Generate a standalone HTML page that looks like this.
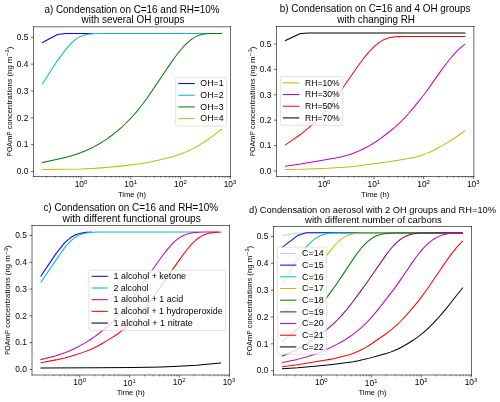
<!DOCTYPE html>
<html><head><meta charset="utf-8"><style>html,body{margin:0;padding:0;background:#fff;overflow:hidden}svg{display:block;will-change:transform}</style></head><body>
<svg width="500" height="402" viewBox="0 0 681.818182 548.181818" version="1.1">
<defs>
<style type="text/css">*{stroke-linejoin: round; stroke-linecap: butt}</style>
</defs>
<g id="figure_1">
<g id="patch_1">
<path d="M 0 548.181818 
L 681.818182 548.181818 
L 681.818182 0 
L 0 0 
z
" style="fill: #ffffff"/>
</g>
<g id="axes_1">
<g id="patch_2">
<path d="M 45.681818 240.681818 
L 314.318182 240.681818 
L 314.318182 36.545455 
L 45.681818 36.545455 
z
" style="fill: #ffffff"/>
</g>
<g id="matplotlib.axis_1">
<g id="xtick_1">
<g id="line2d_1">
<defs>
<path id="mc3e03fb9f3" d="M 0 0 
L 0 3.5 
" style="stroke: #000000; stroke-width: 0.8"/>
</defs>
<g>
<use href="#mc3e03fb9f3" x="110.599546" y="240.681818" style="stroke: #000000; stroke-width: 0.8"/>
</g>
</g>
<g id="text_1">
<g transform="translate(101.799546 255.280256)">
<text>
<tspan x="0" y="-0.976562" style="font-size: 12.000px; font-family: 'Liberation Sans', sans-serif" textLength="6.362" lengthAdjust="spacingAndGlyphs">1</tspan>
<tspan x="6.362305" y="-0.976562" style="font-size: 12.000px; font-family: 'Liberation Sans', sans-serif" textLength="6.362" lengthAdjust="spacingAndGlyphs">0</tspan>
<tspan x="12.820312" y="-4.804688" style="font-size: 8.400px; font-family: 'Liberation Sans', sans-serif" textLength="4.454" lengthAdjust="spacingAndGlyphs">0</tspan>
</text>
</g>
</g>
</g>
<g id="xtick_2">
<g id="line2d_2">
<g>
<use href="#mc3e03fb9f3" x="178.333143" y="240.681818" style="stroke: #000000; stroke-width: 0.8"/>
</g>
</g>
<g id="text_2">
<g transform="translate(169.533143 255.280256)">
<text>
<tspan x="0" y="-0.064063" style="font-size: 12.000px; font-family: 'Liberation Sans', sans-serif" textLength="6.362" lengthAdjust="spacingAndGlyphs">1</tspan>
<tspan x="6.362305" y="-0.064063" style="font-size: 12.000px; font-family: 'Liberation Sans', sans-serif" textLength="6.362" lengthAdjust="spacingAndGlyphs">0</tspan>
<tspan x="12.820312" y="-3.892188" style="font-size: 8.400px; font-family: 'Liberation Sans', sans-serif" textLength="4.454" lengthAdjust="spacingAndGlyphs">1</tspan>
</text>
</g>
</g>
</g>
<g id="xtick_3">
<g id="line2d_3">
<g>
<use href="#mc3e03fb9f3" x="246.066741" y="240.681818" style="stroke: #000000; stroke-width: 0.8"/>
</g>
</g>
<g id="text_3">
<g transform="translate(237.266741 255.280256)">
<text>
<tspan x="0" y="-0.976562" style="font-size: 12.000px; font-family: 'Liberation Sans', sans-serif" textLength="6.362" lengthAdjust="spacingAndGlyphs">1</tspan>
<tspan x="6.362305" y="-0.976562" style="font-size: 12.000px; font-family: 'Liberation Sans', sans-serif" textLength="6.362" lengthAdjust="spacingAndGlyphs">0</tspan>
<tspan x="12.820312" y="-4.804688" style="font-size: 8.400px; font-family: 'Liberation Sans', sans-serif" textLength="4.454" lengthAdjust="spacingAndGlyphs">2</tspan>
</text>
</g>
</g>
</g>
<g id="xtick_4">
<g id="line2d_4">
<g>
<use href="#mc3e03fb9f3" x="313.800338" y="240.681818" style="stroke: #000000; stroke-width: 0.8"/>
</g>
</g>
<g id="text_4">
<g transform="translate(305.000338 255.280256)">
<text>
<tspan x="0" y="-0.976562" style="font-size: 12.000px; font-family: 'Liberation Sans', sans-serif" textLength="6.362" lengthAdjust="spacingAndGlyphs">1</tspan>
<tspan x="6.362305" y="-0.976562" style="font-size: 12.000px; font-family: 'Liberation Sans', sans-serif" textLength="6.362" lengthAdjust="spacingAndGlyphs">0</tspan>
<tspan x="12.820312" y="-4.804688" style="font-size: 8.400px; font-family: 'Liberation Sans', sans-serif" textLength="4.454" lengthAdjust="spacingAndGlyphs">3</tspan>
</text>
</g>
</g>
</g>
<g id="xtick_5">
<g id="line2d_5">
<defs>
<path id="m08e8c4e3fb" d="M 0 0 
L 0 2 
" style="stroke: #000000; stroke-width: 0.6"/>
</defs>
<g>
<use href="#m08e8c4e3fb" x="63.255793" y="240.681818" style="stroke: #000000; stroke-width: 0.6"/>
</g>
</g>
</g>
<g id="xtick_6">
<g id="line2d_6">
<g>
<use href="#m08e8c4e3fb" x="75.183087" y="240.681818" style="stroke: #000000; stroke-width: 0.6"/>
</g>
</g>
</g>
<g id="xtick_7">
<g id="line2d_7">
<g>
<use href="#m08e8c4e3fb" x="83.645637" y="240.681818" style="stroke: #000000; stroke-width: 0.6"/>
</g>
</g>
</g>
<g id="xtick_8">
<g id="line2d_8">
<g>
<use href="#m08e8c4e3fb" x="90.209701" y="240.681818" style="stroke: #000000; stroke-width: 0.6"/>
</g>
</g>
</g>
<g id="xtick_9">
<g id="line2d_9">
<g>
<use href="#m08e8c4e3fb" x="95.572932" y="240.681818" style="stroke: #000000; stroke-width: 0.6"/>
</g>
</g>
</g>
<g id="xtick_10">
<g id="line2d_10">
<g>
<use href="#m08e8c4e3fb" x="100.107479" y="240.681818" style="stroke: #000000; stroke-width: 0.6"/>
</g>
</g>
</g>
<g id="xtick_11">
<g id="line2d_11">
<g>
<use href="#m08e8c4e3fb" x="104.035482" y="240.681818" style="stroke: #000000; stroke-width: 0.6"/>
</g>
</g>
</g>
<g id="xtick_12">
<g id="line2d_12">
<g>
<use href="#m08e8c4e3fb" x="107.500226" y="240.681818" style="stroke: #000000; stroke-width: 0.6"/>
</g>
</g>
</g>
<g id="xtick_13">
<g id="line2d_13">
<g>
<use href="#m08e8c4e3fb" x="130.98939" y="240.681818" style="stroke: #000000; stroke-width: 0.6"/>
</g>
</g>
</g>
<g id="xtick_14">
<g id="line2d_14">
<g>
<use href="#m08e8c4e3fb" x="142.916685" y="240.681818" style="stroke: #000000; stroke-width: 0.6"/>
</g>
</g>
</g>
<g id="xtick_15">
<g id="line2d_15">
<g>
<use href="#m08e8c4e3fb" x="151.379235" y="240.681818" style="stroke: #000000; stroke-width: 0.6"/>
</g>
</g>
</g>
<g id="xtick_16">
<g id="line2d_16">
<g>
<use href="#m08e8c4e3fb" x="157.943299" y="240.681818" style="stroke: #000000; stroke-width: 0.6"/>
</g>
</g>
</g>
<g id="xtick_17">
<g id="line2d_17">
<g>
<use href="#m08e8c4e3fb" x="163.306529" y="240.681818" style="stroke: #000000; stroke-width: 0.6"/>
</g>
</g>
</g>
<g id="xtick_18">
<g id="line2d_18">
<g>
<use href="#m08e8c4e3fb" x="167.841076" y="240.681818" style="stroke: #000000; stroke-width: 0.6"/>
</g>
</g>
</g>
<g id="xtick_19">
<g id="line2d_19">
<g>
<use href="#m08e8c4e3fb" x="171.769079" y="240.681818" style="stroke: #000000; stroke-width: 0.6"/>
</g>
</g>
</g>
<g id="xtick_20">
<g id="line2d_20">
<g>
<use href="#m08e8c4e3fb" x="175.233824" y="240.681818" style="stroke: #000000; stroke-width: 0.6"/>
</g>
</g>
</g>
<g id="xtick_21">
<g id="line2d_21">
<g>
<use href="#m08e8c4e3fb" x="198.722988" y="240.681818" style="stroke: #000000; stroke-width: 0.6"/>
</g>
</g>
</g>
<g id="xtick_22">
<g id="line2d_22">
<g>
<use href="#m08e8c4e3fb" x="210.650282" y="240.681818" style="stroke: #000000; stroke-width: 0.6"/>
</g>
</g>
</g>
<g id="xtick_23">
<g id="line2d_23">
<g>
<use href="#m08e8c4e3fb" x="219.112832" y="240.681818" style="stroke: #000000; stroke-width: 0.6"/>
</g>
</g>
</g>
<g id="xtick_24">
<g id="line2d_24">
<g>
<use href="#m08e8c4e3fb" x="225.676896" y="240.681818" style="stroke: #000000; stroke-width: 0.6"/>
</g>
</g>
</g>
<g id="xtick_25">
<g id="line2d_25">
<g>
<use href="#m08e8c4e3fb" x="231.040127" y="240.681818" style="stroke: #000000; stroke-width: 0.6"/>
</g>
</g>
</g>
<g id="xtick_26">
<g id="line2d_26">
<g>
<use href="#m08e8c4e3fb" x="235.574674" y="240.681818" style="stroke: #000000; stroke-width: 0.6"/>
</g>
</g>
</g>
<g id="xtick_27">
<g id="line2d_27">
<g>
<use href="#m08e8c4e3fb" x="239.502677" y="240.681818" style="stroke: #000000; stroke-width: 0.6"/>
</g>
</g>
</g>
<g id="xtick_28">
<g id="line2d_28">
<g>
<use href="#m08e8c4e3fb" x="242.967421" y="240.681818" style="stroke: #000000; stroke-width: 0.6"/>
</g>
</g>
</g>
<g id="xtick_29">
<g id="line2d_29">
<g>
<use href="#m08e8c4e3fb" x="266.456585" y="240.681818" style="stroke: #000000; stroke-width: 0.6"/>
</g>
</g>
</g>
<g id="xtick_30">
<g id="line2d_30">
<g>
<use href="#m08e8c4e3fb" x="278.38388" y="240.681818" style="stroke: #000000; stroke-width: 0.6"/>
</g>
</g>
</g>
<g id="xtick_31">
<g id="line2d_31">
<g>
<use href="#m08e8c4e3fb" x="286.84643" y="240.681818" style="stroke: #000000; stroke-width: 0.6"/>
</g>
</g>
</g>
<g id="xtick_32">
<g id="line2d_32">
<g>
<use href="#m08e8c4e3fb" x="293.410494" y="240.681818" style="stroke: #000000; stroke-width: 0.6"/>
</g>
</g>
</g>
<g id="xtick_33">
<g id="line2d_33">
<g>
<use href="#m08e8c4e3fb" x="298.773724" y="240.681818" style="stroke: #000000; stroke-width: 0.6"/>
</g>
</g>
</g>
<g id="xtick_34">
<g id="line2d_34">
<g>
<use href="#m08e8c4e3fb" x="303.308271" y="240.681818" style="stroke: #000000; stroke-width: 0.6"/>
</g>
</g>
</g>
<g id="xtick_35">
<g id="line2d_35">
<g>
<use href="#m08e8c4e3fb" x="307.236274" y="240.681818" style="stroke: #000000; stroke-width: 0.6"/>
</g>
</g>
</g>
<g id="xtick_36">
<g id="line2d_36">
<g>
<use href="#m08e8c4e3fb" x="310.701019" y="240.681818" style="stroke: #000000; stroke-width: 0.6"/>
</g>
</g>
</g>
<g id="text_5">
<text style="font-size: 11.040px; font-family: 'Liberation Sans', sans-serif; text-anchor: middle" x="180" y="268.350506" transform="rotate(-0 180 268.350506)" textLength="38.449" lengthAdjust="spacingAndGlyphs">Time (h)</text>
</g>
</g>
<g id="matplotlib.axis_2">
<g id="ytick_1">
<g id="line2d_37">
<defs>
<path id="m2a3950ff30" d="M 0 0 
L -3.5 0 
" style="stroke: #000000; stroke-width: 0.8"/>
</defs>
<g>
<use href="#m2a3950ff30" x="45.681818" y="233.863636" style="stroke: #000000; stroke-width: 0.8"/>
</g>
</g>
<g id="text_6">
<text style="font-size: 12.000px; font-family: 'Liberation Sans', sans-serif; text-anchor: end" x="38.681818" y="237.662855" transform="rotate(-0 38.681818 237.662855)" textLength="15.903" lengthAdjust="spacingAndGlyphs">0.0</text>
</g>
</g>
<g id="ytick_2">
<g id="line2d_38">
<g>
<use href="#m2a3950ff30" x="45.681818" y="197.263636" style="stroke: #000000; stroke-width: 0.8"/>
</g>
</g>
<g id="text_7">
<text style="font-size: 12.000px; font-family: 'Liberation Sans', sans-serif; text-anchor: end" x="38.681818" y="201.062855" transform="rotate(-0 38.681818 201.062855)" textLength="15.903" lengthAdjust="spacingAndGlyphs">0.1</text>
</g>
</g>
<g id="ytick_3">
<g id="line2d_39">
<g>
<use href="#m2a3950ff30" x="45.681818" y="160.663636" style="stroke: #000000; stroke-width: 0.8"/>
</g>
</g>
<g id="text_8">
<text style="font-size: 12.000px; font-family: 'Liberation Sans', sans-serif; text-anchor: end" x="38.681818" y="164.462855" transform="rotate(-0 38.681818 164.462855)" textLength="15.903" lengthAdjust="spacingAndGlyphs">0.2</text>
</g>
</g>
<g id="ytick_4">
<g id="line2d_40">
<g>
<use href="#m2a3950ff30" x="45.681818" y="124.063636" style="stroke: #000000; stroke-width: 0.8"/>
</g>
</g>
<g id="text_9">
<text style="font-size: 12.000px; font-family: 'Liberation Sans', sans-serif; text-anchor: end" x="38.681818" y="127.862855" transform="rotate(-0 38.681818 127.862855)" textLength="15.903" lengthAdjust="spacingAndGlyphs">0.3</text>
</g>
</g>
<g id="ytick_5">
<g id="line2d_41">
<g>
<use href="#m2a3950ff30" x="45.681818" y="87.463636" style="stroke: #000000; stroke-width: 0.8"/>
</g>
</g>
<g id="text_10">
<text style="font-size: 12.000px; font-family: 'Liberation Sans', sans-serif; text-anchor: end" x="38.681818" y="91.262855" transform="rotate(-0 38.681818 91.262855)" textLength="15.903" lengthAdjust="spacingAndGlyphs">0.4</text>
</g>
</g>
<g id="ytick_6">
<g id="line2d_42">
<g>
<use href="#m2a3950ff30" x="45.681818" y="50.863636" style="stroke: #000000; stroke-width: 0.8"/>
</g>
</g>
<g id="text_11">
<text style="font-size: 12.000px; font-family: 'Liberation Sans', sans-serif; text-anchor: end" x="38.681818" y="54.662855" transform="rotate(-0 38.681818 54.662855)" textLength="15.903" lengthAdjust="spacingAndGlyphs">0.5</text>
</g>
</g>
<g id="text_12">
<g transform="translate(16.846693 212.903636) rotate(-90)">
<text>
<tspan x="0" y="-0.873438" style="font-size: 11.040px; font-family: 'Liberation Sans', sans-serif" textLength="5.548" lengthAdjust="spacingAndGlyphs">P</tspan>
<tspan x="5.578003" y="-0.873438" style="font-size: 11.040px; font-family: 'Liberation Sans', sans-serif" textLength="7.241" lengthAdjust="spacingAndGlyphs">O</tspan>
<tspan x="12.858765" y="-0.873438" style="font-size: 11.040px; font-family: 'Liberation Sans', sans-serif" textLength="6.294" lengthAdjust="spacingAndGlyphs">A</tspan>
<tspan x="19.186523" y="-0.873438" style="font-size: 11.040px; font-family: 'Liberation Sans', sans-serif" textLength="8.962" lengthAdjust="spacingAndGlyphs">m</tspan>
<tspan x="28.197144" y="-0.873438" style="font-size: 11.040px; font-family: 'Liberation Sans', sans-serif" textLength="5.548" lengthAdjust="spacingAndGlyphs">P</tspan>
<tspan x="33.775146" y="-0.873438" style="font-size: 11.040px; font-family: 'Liberation Sans', sans-serif"> </tspan>
<tspan x="36.715454" y="-0.873438" style="font-size: 11.040px; font-family: 'Liberation Sans', sans-serif" textLength="5.058" lengthAdjust="spacingAndGlyphs">c</tspan>
<tspan x="41.801147" y="-0.873438" style="font-size: 11.040px; font-family: 'Liberation Sans', sans-serif" textLength="5.629" lengthAdjust="spacingAndGlyphs">o</tspan>
<tspan x="47.460449" y="-0.873438" style="font-size: 11.040px; font-family: 'Liberation Sans', sans-serif" textLength="5.831" lengthAdjust="spacingAndGlyphs">n</tspan>
<tspan x="53.322998" y="-0.873438" style="font-size: 11.040px; font-family: 'Liberation Sans', sans-serif" textLength="5.058" lengthAdjust="spacingAndGlyphs">c</tspan>
<tspan x="58.408691" y="-0.873438" style="font-size: 11.040px; font-family: 'Liberation Sans', sans-serif" textLength="5.660" lengthAdjust="spacingAndGlyphs">e</tspan>
<tspan x="64.099609" y="-0.873438" style="font-size: 11.040px; font-family: 'Liberation Sans', sans-serif" textLength="5.831" lengthAdjust="spacingAndGlyphs">n</tspan>
<tspan x="69.962158" y="-0.873438" style="font-size: 11.040px; font-family: 'Liberation Sans', sans-serif" textLength="3.607" lengthAdjust="spacingAndGlyphs">t</tspan>
<tspan x="73.588989" y="-0.873438" style="font-size: 11.040px; font-family: 'Liberation Sans', sans-serif" textLength="3.782" lengthAdjust="spacingAndGlyphs">r</tspan>
<tspan x="77.391968" y="-0.873438" style="font-size: 11.040px; font-family: 'Liberation Sans', sans-serif" textLength="5.638" lengthAdjust="spacingAndGlyphs">a</tspan>
<tspan x="83.060303" y="-0.873438" style="font-size: 11.040px; font-family: 'Liberation Sans', sans-serif" textLength="3.607" lengthAdjust="spacingAndGlyphs">t</tspan>
<tspan x="86.687134" y="-0.873438" style="font-size: 11.040px; font-family: 'Liberation Sans', sans-serif" textLength="2.556" lengthAdjust="spacingAndGlyphs">i</tspan>
<tspan x="89.25708" y="-0.873438" style="font-size: 11.040px; font-family: 'Liberation Sans', sans-serif" textLength="5.629" lengthAdjust="spacingAndGlyphs">o</tspan>
<tspan x="94.916382" y="-0.873438" style="font-size: 11.040px; font-family: 'Liberation Sans', sans-serif" textLength="5.831" lengthAdjust="spacingAndGlyphs">n</tspan>
<tspan x="100.778931" y="-0.873438" style="font-size: 11.040px; font-family: 'Liberation Sans', sans-serif" textLength="4.793" lengthAdjust="spacingAndGlyphs">s</tspan>
<tspan x="105.598145" y="-0.873438" style="font-size: 11.040px; font-family: 'Liberation Sans', sans-serif"> </tspan>
<tspan x="108.538452" y="-0.873438" style="font-size: 11.040px; font-family: 'Liberation Sans', sans-serif" textLength="3.589" lengthAdjust="spacingAndGlyphs">(</tspan>
<tspan x="112.147217" y="-0.873438" style="font-size: 11.040px; font-family: 'Liberation Sans', sans-serif" textLength="5.831" lengthAdjust="spacingAndGlyphs">n</tspan>
<tspan x="118.009766" y="-0.873438" style="font-size: 11.040px; font-family: 'Liberation Sans', sans-serif" textLength="5.840" lengthAdjust="spacingAndGlyphs">g</tspan>
<tspan x="123.881348" y="-0.873438" style="font-size: 11.040px; font-family: 'Liberation Sans', sans-serif"> </tspan>
<tspan x="126.821655" y="-0.873438" style="font-size: 11.040px; font-family: 'Liberation Sans', sans-serif" textLength="8.962" lengthAdjust="spacingAndGlyphs">m</tspan>
<tspan x="145.709436" y="-0.873438" style="font-size: 11.040px; font-family: 'Liberation Sans', sans-serif" textLength="3.589" lengthAdjust="spacingAndGlyphs">)</tspan>
<tspan x="135.918408" y="-4.31875" style="font-size: 7.728px; font-family: 'Liberation Sans', sans-serif" textLength="5.396" lengthAdjust="spacingAndGlyphs">−</tspan>
<tspan x="141.34375" y="-4.31875" style="font-size: 7.728px; font-family: 'Liberation Sans', sans-serif" textLength="4.097" lengthAdjust="spacingAndGlyphs">3</tspan>
</text>
</g>
</g>
</g>
<g id="line2d_43">
<path d="M 57.892562 57.959559 
L 78.282407 47.042829 
L 90.209701 45.708064 
L 98.672251 45.681852 
L 105.236315 45.681815 
L 110.599546 45.681815 
L 115.134093 45.681815 
L 119.062096 45.681815 
L 122.52684 45.681815 
L 125.62616 45.681815 
" clip-path="url(#pf4587c5738)" style="fill: none; stroke: #0000ff; stroke-width: 1.4; stroke-linecap: square"/>
</g>
<g id="line2d_44">
<path d="M 57.892562 114.273567 
L 78.282407 82.620226 
L 90.209701 66.52876 
L 98.672251 57.512881 
L 105.236315 52.388295 
L 110.599546 49.47046 
L 115.134093 47.816353 
L 119.062096 46.883717 
L 122.52684 46.358742 
L 128.429835 45.895417 
L 135.523937 45.718349 
L 153.733797 45.680544 
L 283.1556 45.680455 
L 283.1556 45.680455 
" clip-path="url(#pf4587c5738)" style="fill: none; stroke: #00bfbf; stroke-width: 1.4; stroke-linecap: square"/>
</g>
<g id="line2d_45">
<path d="M 57.892562 221.700254 
L 78.282407 217.25277 
L 90.209701 214.420438 
L 98.672251 212.100036 
L 105.236315 209.99844 
L 110.599546 208.051661 
L 115.134093 206.234183 
L 122.52684 202.908587 
L 128.429835 199.914854 
L 135.523937 195.949611 
L 141.235294 192.455923 
L 146.016004 189.293649 
L 151.379235 185.4669 
L 155.913782 181.980924 
L 160.746974 177.984221 
L 165.661092 173.615575 
L 171.149765 168.407568 
L 176.824283 162.695577 
L 182.014983 157.152024 
L 186.425672 152.11826 
L 190.906976 146.639549 
L 195.350026 140.85172 
L 200.390757 133.906554 
L 206.628745 124.896659 
L 219.599064 105.642974 
L 232.630586 86.433335 
L 238.378349 78.357475 
L 242.912896 72.356475 
L 246.888614 67.455969 
L 250.474947 63.37873 
L 253.822223 59.904944 
L 256.929074 56.997554 
L 259.831173 54.582347 
L 262.556584 52.597042 
L 265.179047 50.956124 
L 267.7514 49.605118 
L 270.332451 48.499103 
L 272.981401 47.605731 
L 275.788647 46.896411 
L 278.837944 46.359609 
L 282.266907 45.986772 
L 286.376945 45.772379 
L 292.585172 45.701061 
L 302.107438 45.685924 
L 302.107438 45.685924 
" clip-path="url(#pf4587c5738)" style="fill: none; stroke: #008000; stroke-width: 1.4; stroke-linecap: square"/>
</g>
<g id="line2d_46">
<path d="M 57.892562 231.237851 
L 110.599546 230.310832 
L 125.62616 229.649623 
L 137.553454 228.919145 
L 152.580068 227.742079 
L 164.896988 226.523822 
L 176.824283 225.150463 
L 190.906976 223.25976 
L 199.449354 221.930871 
L 206.251608 220.639284 
L 214.18757 218.884013 
L 227.112124 215.76601 
L 234.937472 213.675708 
L 241.170446 211.784054 
L 246.745236 209.863631 
L 251.996466 207.820798 
L 257.198951 205.555836 
L 262.444415 203.028058 
L 267.657418 200.269115 
L 272.784372 197.304012 
L 277.972456 194.044062 
L 283.555828 190.266549 
L 290.01553 185.618788 
L 297.547345 179.917946 
L 302.107438 176.367388 
L 302.107438 176.367388 
" clip-path="url(#pf4587c5738)" style="fill: none; stroke: #bfbf00; stroke-width: 1.4; stroke-linecap: square"/>
</g>
<g id="patch_3">
<path d="M 45.681818 240.681818 
L 45.681818 36.545455 
" style="fill: none; stroke: #000000; stroke-width: 0.8; stroke-linejoin: miter; stroke-linecap: square"/>
</g>
<g id="patch_4">
<path d="M 314.318182 240.681818 
L 314.318182 36.545455 
" style="fill: none; stroke: #000000; stroke-width: 0.8; stroke-linejoin: miter; stroke-linecap: square"/>
</g>
<g id="patch_5">
<path d="M 45.681818 240.681818 
L 314.318182 240.681818 
" style="fill: none; stroke: #000000; stroke-width: 0.8; stroke-linejoin: miter; stroke-linecap: square"/>
</g>
<g id="patch_6">
<path d="M 45.681818 36.545455 
L 314.318182 36.545455 
" style="fill: none; stroke: #000000; stroke-width: 0.8; stroke-linejoin: miter; stroke-linecap: square"/>
</g>
<g id="text_13">
<text style="font-size: 14.400px; font-family: 'Liberation Sans', sans-serif" transform="translate(60.525938 17.10808)" textLength="238.947" lengthAdjust="spacingAndGlyphs">a) Condensation on C=16 and RH=10%</text>
<text style="font-size: 14.400px; font-family: 'Liberation Sans', sans-serif" transform="translate(111.2593 31.6364)" textLength="140.216" lengthAdjust="spacingAndGlyphs">with several OH groups</text>
</g>
<g id="legend_1">
<g id="patch_7">
<path d="M 241.727088 171.800199 
L 306.968182 171.800199 
Q 309.068182 171.800199 309.068182 169.700199 
L 309.068182 107.527074 
Q 309.068182 105.427074 306.968182 105.427074 
L 241.727088 105.427074 
Q 239.627088 105.427074 239.627088 107.527074 
L 239.627088 169.700199 
Q 239.627088 171.800199 241.727088 171.800199 
z
" style="fill: #ffffff; opacity: 0.8; stroke: #cccccc; stroke-linejoin: miter"/>
</g>
<g id="line2d_47">
<path d="M 243.827088 113.930433 
L 254.327088 113.930433 
L 264.827088 113.930433 
" style="fill: none; stroke: #0000ff; stroke-width: 1.4; stroke-linecap: square"/>
</g>
<g id="text_14">
<text style="font-size: 12.600px; font-family: 'Liberation Sans', sans-serif; text-anchor: start" x="273.227088" y="117.605433" transform="rotate(-0 273.227088 117.605433)" textLength="31.638" lengthAdjust="spacingAndGlyphs">OH=1</text>
</g>
<g id="line2d_48">
<path d="M 243.827088 129.867464 
L 254.327088 129.867464 
L 264.827088 129.867464 
" style="fill: none; stroke: #00bfbf; stroke-width: 1.4; stroke-linecap: square"/>
</g>
<g id="text_15">
<text style="font-size: 12.600px; font-family: 'Liberation Sans', sans-serif; text-anchor: start" x="273.227088" y="133.542464" transform="rotate(-0 273.227088 133.542464)" textLength="31.638" lengthAdjust="spacingAndGlyphs">OH=2</text>
</g>
<g id="line2d_49">
<path d="M 243.827088 145.804496 
L 254.327088 145.804496 
L 264.827088 145.804496 
" style="fill: none; stroke: #008000; stroke-width: 1.4; stroke-linecap: square"/>
</g>
<g id="text_16">
<text style="font-size: 12.600px; font-family: 'Liberation Sans', sans-serif; text-anchor: start" x="273.227088" y="149.479496" transform="rotate(-0 273.227088 149.479496)" textLength="31.638" lengthAdjust="spacingAndGlyphs">OH=3</text>
</g>
<g id="line2d_50">
<path d="M 243.827088 161.741527 
L 254.327088 161.741527 
L 264.827088 161.741527 
" style="fill: none; stroke: #bfbf00; stroke-width: 1.4; stroke-linecap: square"/>
</g>
<g id="text_17">
<text style="font-size: 12.600px; font-family: 'Liberation Sans', sans-serif; text-anchor: start" x="273.227088" y="165.416527" transform="rotate(-0 273.227088 165.416527)" textLength="31.638" lengthAdjust="spacingAndGlyphs">OH=4</text>
</g>
</g>
</g>
<g id="axes_2">
<g id="patch_8">
<path d="M 377.045455 240.681818 
L 646.090909 240.681818 
L 646.090909 36.136364 
L 377.045455 36.136364 
z
" style="fill: #ffffff"/>
</g>
<g id="matplotlib.axis_3">
<g id="xtick_37">
<g id="line2d_51">
<g>
<use href="#mc3e03fb9f3" x="442.062041" y="240.681818" style="stroke: #000000; stroke-width: 0.8"/>
</g>
</g>
<g id="text_18">
<g transform="translate(433.262041 255.280256)">
<text>
<tspan x="0" y="-0.976562" style="font-size: 12.000px; font-family: 'Liberation Sans', sans-serif" textLength="6.362" lengthAdjust="spacingAndGlyphs">1</tspan>
<tspan x="6.362305" y="-0.976562" style="font-size: 12.000px; font-family: 'Liberation Sans', sans-serif" textLength="6.362" lengthAdjust="spacingAndGlyphs">0</tspan>
<tspan x="12.820312" y="-4.804688" style="font-size: 8.400px; font-family: 'Liberation Sans', sans-serif" textLength="4.454" lengthAdjust="spacingAndGlyphs">0</tspan>
</text>
</g>
</g>
</g>
<g id="xtick_38">
<g id="line2d_52">
<g>
<use href="#mc3e03fb9f3" x="509.898787" y="240.681818" style="stroke: #000000; stroke-width: 0.8"/>
</g>
</g>
<g id="text_19">
<g transform="translate(501.098787 255.280256)">
<text>
<tspan x="0" y="-0.064063" style="font-size: 12.000px; font-family: 'Liberation Sans', sans-serif" textLength="6.362" lengthAdjust="spacingAndGlyphs">1</tspan>
<tspan x="6.362305" y="-0.064063" style="font-size: 12.000px; font-family: 'Liberation Sans', sans-serif" textLength="6.362" lengthAdjust="spacingAndGlyphs">0</tspan>
<tspan x="12.820312" y="-3.892188" style="font-size: 8.400px; font-family: 'Liberation Sans', sans-serif" textLength="4.454" lengthAdjust="spacingAndGlyphs">1</tspan>
</text>
</g>
</g>
</g>
<g id="xtick_39">
<g id="line2d_53">
<g>
<use href="#mc3e03fb9f3" x="577.735532" y="240.681818" style="stroke: #000000; stroke-width: 0.8"/>
</g>
</g>
<g id="text_20">
<g transform="translate(568.935532 255.280256)">
<text>
<tspan x="0" y="-0.976562" style="font-size: 12.000px; font-family: 'Liberation Sans', sans-serif" textLength="6.362" lengthAdjust="spacingAndGlyphs">1</tspan>
<tspan x="6.362305" y="-0.976562" style="font-size: 12.000px; font-family: 'Liberation Sans', sans-serif" textLength="6.362" lengthAdjust="spacingAndGlyphs">0</tspan>
<tspan x="12.820312" y="-4.804688" style="font-size: 8.400px; font-family: 'Liberation Sans', sans-serif" textLength="4.454" lengthAdjust="spacingAndGlyphs">2</tspan>
</text>
</g>
</g>
</g>
<g id="xtick_40">
<g id="line2d_54">
<g>
<use href="#mc3e03fb9f3" x="645.572277" y="240.681818" style="stroke: #000000; stroke-width: 0.8"/>
</g>
</g>
<g id="text_21">
<g transform="translate(636.772277 255.280256)">
<text>
<tspan x="0" y="-0.976562" style="font-size: 12.000px; font-family: 'Liberation Sans', sans-serif" textLength="6.362" lengthAdjust="spacingAndGlyphs">1</tspan>
<tspan x="6.362305" y="-0.976562" style="font-size: 12.000px; font-family: 'Liberation Sans', sans-serif" textLength="6.362" lengthAdjust="spacingAndGlyphs">0</tspan>
<tspan x="12.820312" y="-4.804688" style="font-size: 8.400px; font-family: 'Liberation Sans', sans-serif" textLength="4.454" lengthAdjust="spacingAndGlyphs">3</tspan>
</text>
</g>
</g>
</g>
<g id="xtick_41">
<g id="line2d_55">
<g>
<use href="#m08e8c4e3fb" x="394.646191" y="240.681818" style="stroke: #000000; stroke-width: 0.6"/>
</g>
</g>
</g>
<g id="xtick_42">
<g id="line2d_56">
<g>
<use href="#m08e8c4e3fb" x="406.591649" y="240.681818" style="stroke: #000000; stroke-width: 0.6"/>
</g>
</g>
</g>
<g id="xtick_43">
<g id="line2d_57">
<g>
<use href="#m08e8c4e3fb" x="415.067086" y="240.681818" style="stroke: #000000; stroke-width: 0.6"/>
</g>
</g>
</g>
<g id="xtick_44">
<g id="line2d_58">
<g>
<use href="#m08e8c4e3fb" x="421.641146" y="240.681818" style="stroke: #000000; stroke-width: 0.6"/>
</g>
</g>
</g>
<g id="xtick_45">
<g id="line2d_59">
<g>
<use href="#m08e8c4e3fb" x="427.012544" y="240.681818" style="stroke: #000000; stroke-width: 0.6"/>
</g>
</g>
</g>
<g id="xtick_46">
<g id="line2d_60">
<g>
<use href="#m08e8c4e3fb" x="431.553997" y="240.681818" style="stroke: #000000; stroke-width: 0.6"/>
</g>
</g>
</g>
<g id="xtick_47">
<g id="line2d_61">
<g>
<use href="#m08e8c4e3fb" x="435.487982" y="240.681818" style="stroke: #000000; stroke-width: 0.6"/>
</g>
</g>
</g>
<g id="xtick_48">
<g id="line2d_62">
<g>
<use href="#m08e8c4e3fb" x="438.958002" y="240.681818" style="stroke: #000000; stroke-width: 0.6"/>
</g>
</g>
</g>
<g id="xtick_49">
<g id="line2d_63">
<g>
<use href="#m08e8c4e3fb" x="462.482937" y="240.681818" style="stroke: #000000; stroke-width: 0.6"/>
</g>
</g>
</g>
<g id="xtick_50">
<g id="line2d_64">
<g>
<use href="#m08e8c4e3fb" x="474.428394" y="240.681818" style="stroke: #000000; stroke-width: 0.6"/>
</g>
</g>
</g>
<g id="xtick_51">
<g id="line2d_65">
<g>
<use href="#m08e8c4e3fb" x="482.903832" y="240.681818" style="stroke: #000000; stroke-width: 0.6"/>
</g>
</g>
</g>
<g id="xtick_52">
<g id="line2d_66">
<g>
<use href="#m08e8c4e3fb" x="489.477891" y="240.681818" style="stroke: #000000; stroke-width: 0.6"/>
</g>
</g>
</g>
<g id="xtick_53">
<g id="line2d_67">
<g>
<use href="#m08e8c4e3fb" x="494.849289" y="240.681818" style="stroke: #000000; stroke-width: 0.6"/>
</g>
</g>
</g>
<g id="xtick_54">
<g id="line2d_68">
<g>
<use href="#m08e8c4e3fb" x="499.390742" y="240.681818" style="stroke: #000000; stroke-width: 0.6"/>
</g>
</g>
</g>
<g id="xtick_55">
<g id="line2d_69">
<g>
<use href="#m08e8c4e3fb" x="503.324727" y="240.681818" style="stroke: #000000; stroke-width: 0.6"/>
</g>
</g>
</g>
<g id="xtick_56">
<g id="line2d_70">
<g>
<use href="#m08e8c4e3fb" x="506.794747" y="240.681818" style="stroke: #000000; stroke-width: 0.6"/>
</g>
</g>
</g>
<g id="xtick_57">
<g id="line2d_71">
<g>
<use href="#m08e8c4e3fb" x="530.319682" y="240.681818" style="stroke: #000000; stroke-width: 0.6"/>
</g>
</g>
</g>
<g id="xtick_58">
<g id="line2d_72">
<g>
<use href="#m08e8c4e3fb" x="542.26514" y="240.681818" style="stroke: #000000; stroke-width: 0.6"/>
</g>
</g>
</g>
<g id="xtick_59">
<g id="line2d_73">
<g>
<use href="#m08e8c4e3fb" x="550.740577" y="240.681818" style="stroke: #000000; stroke-width: 0.6"/>
</g>
</g>
</g>
<g id="xtick_60">
<g id="line2d_74">
<g>
<use href="#m08e8c4e3fb" x="557.314637" y="240.681818" style="stroke: #000000; stroke-width: 0.6"/>
</g>
</g>
</g>
<g id="xtick_61">
<g id="line2d_75">
<g>
<use href="#m08e8c4e3fb" x="562.686035" y="240.681818" style="stroke: #000000; stroke-width: 0.6"/>
</g>
</g>
</g>
<g id="xtick_62">
<g id="line2d_76">
<g>
<use href="#m08e8c4e3fb" x="567.227487" y="240.681818" style="stroke: #000000; stroke-width: 0.6"/>
</g>
</g>
</g>
<g id="xtick_63">
<g id="line2d_77">
<g>
<use href="#m08e8c4e3fb" x="571.161472" y="240.681818" style="stroke: #000000; stroke-width: 0.6"/>
</g>
</g>
</g>
<g id="xtick_64">
<g id="line2d_78">
<g>
<use href="#m08e8c4e3fb" x="574.631493" y="240.681818" style="stroke: #000000; stroke-width: 0.6"/>
</g>
</g>
</g>
<g id="xtick_65">
<g id="line2d_79">
<g>
<use href="#m08e8c4e3fb" x="598.156427" y="240.681818" style="stroke: #000000; stroke-width: 0.6"/>
</g>
</g>
</g>
<g id="xtick_66">
<g id="line2d_80">
<g>
<use href="#m08e8c4e3fb" x="610.101885" y="240.681818" style="stroke: #000000; stroke-width: 0.6"/>
</g>
</g>
</g>
<g id="xtick_67">
<g id="line2d_81">
<g>
<use href="#m08e8c4e3fb" x="618.577322" y="240.681818" style="stroke: #000000; stroke-width: 0.6"/>
</g>
</g>
</g>
<g id="xtick_68">
<g id="line2d_82">
<g>
<use href="#m08e8c4e3fb" x="625.151382" y="240.681818" style="stroke: #000000; stroke-width: 0.6"/>
</g>
</g>
</g>
<g id="xtick_69">
<g id="line2d_83">
<g>
<use href="#m08e8c4e3fb" x="630.52278" y="240.681818" style="stroke: #000000; stroke-width: 0.6"/>
</g>
</g>
</g>
<g id="xtick_70">
<g id="line2d_84">
<g>
<use href="#m08e8c4e3fb" x="635.064232" y="240.681818" style="stroke: #000000; stroke-width: 0.6"/>
</g>
</g>
</g>
<g id="xtick_71">
<g id="line2d_85">
<g>
<use href="#m08e8c4e3fb" x="638.998217" y="240.681818" style="stroke: #000000; stroke-width: 0.6"/>
</g>
</g>
</g>
<g id="xtick_72">
<g id="line2d_86">
<g>
<use href="#m08e8c4e3fb" x="642.468238" y="240.681818" style="stroke: #000000; stroke-width: 0.6"/>
</g>
</g>
</g>
<g id="text_22">
<text style="font-size: 11.040px; font-family: 'Liberation Sans', sans-serif; text-anchor: middle" x="511.568182" y="268.350506" transform="rotate(-0 511.568182 268.350506)" textLength="38.449" lengthAdjust="spacingAndGlyphs">Time (h)</text>
</g>
</g>
<g id="matplotlib.axis_4">
<g id="ytick_7">
<g id="line2d_87">
<g>
<use href="#m2a3950ff30" x="377.045455" y="233.045455" style="stroke: #000000; stroke-width: 0.8"/>
</g>
</g>
<g id="text_23">
<text style="font-size: 12.000px; font-family: 'Liberation Sans', sans-serif; text-anchor: end" x="370.045455" y="236.844673" transform="rotate(-0 370.045455 236.844673)" textLength="15.903" lengthAdjust="spacingAndGlyphs">0.0</text>
</g>
</g>
<g id="ytick_8">
<g id="line2d_88">
<g>
<use href="#m2a3950ff30" x="377.045455" y="198.436364" style="stroke: #000000; stroke-width: 0.8"/>
</g>
</g>
<g id="text_24">
<text style="font-size: 12.000px; font-family: 'Liberation Sans', sans-serif; text-anchor: end" x="370.045455" y="202.235582" transform="rotate(-0 370.045455 202.235582)" textLength="15.903" lengthAdjust="spacingAndGlyphs">0.1</text>
</g>
</g>
<g id="ytick_9">
<g id="line2d_89">
<g>
<use href="#m2a3950ff30" x="377.045455" y="163.827273" style="stroke: #000000; stroke-width: 0.8"/>
</g>
</g>
<g id="text_25">
<text style="font-size: 12.000px; font-family: 'Liberation Sans', sans-serif; text-anchor: end" x="370.045455" y="167.626491" transform="rotate(-0 370.045455 167.626491)" textLength="15.903" lengthAdjust="spacingAndGlyphs">0.2</text>
</g>
</g>
<g id="ytick_10">
<g id="line2d_90">
<g>
<use href="#m2a3950ff30" x="377.045455" y="129.218182" style="stroke: #000000; stroke-width: 0.8"/>
</g>
</g>
<g id="text_26">
<text style="font-size: 12.000px; font-family: 'Liberation Sans', sans-serif; text-anchor: end" x="370.045455" y="133.017401" transform="rotate(-0 370.045455 133.017401)" textLength="15.903" lengthAdjust="spacingAndGlyphs">0.3</text>
</g>
</g>
<g id="ytick_11">
<g id="line2d_91">
<g>
<use href="#m2a3950ff30" x="377.045455" y="94.609091" style="stroke: #000000; stroke-width: 0.8"/>
</g>
</g>
<g id="text_27">
<text style="font-size: 12.000px; font-family: 'Liberation Sans', sans-serif; text-anchor: end" x="370.045455" y="98.40831" transform="rotate(-0 370.045455 98.40831)" textLength="15.903" lengthAdjust="spacingAndGlyphs">0.4</text>
</g>
</g>
<g id="ytick_12">
<g id="line2d_92">
<g>
<use href="#m2a3950ff30" x="377.045455" y="60" style="stroke: #000000; stroke-width: 0.8"/>
</g>
</g>
<g id="text_28">
<text style="font-size: 12.000px; font-family: 'Liberation Sans', sans-serif; text-anchor: end" x="370.045455" y="63.799219" transform="rotate(-0 370.045455 63.799219)" textLength="15.903" lengthAdjust="spacingAndGlyphs">0.5</text>
</g>
</g>
<g id="text_29">
<g transform="translate(348.21033 212.699091) rotate(-90)">
<text>
<tspan x="0" y="-0.873438" style="font-size: 11.040px; font-family: 'Liberation Sans', sans-serif" textLength="5.548" lengthAdjust="spacingAndGlyphs">P</tspan>
<tspan x="5.578003" y="-0.873438" style="font-size: 11.040px; font-family: 'Liberation Sans', sans-serif" textLength="7.241" lengthAdjust="spacingAndGlyphs">O</tspan>
<tspan x="12.858765" y="-0.873438" style="font-size: 11.040px; font-family: 'Liberation Sans', sans-serif" textLength="6.294" lengthAdjust="spacingAndGlyphs">A</tspan>
<tspan x="19.186523" y="-0.873438" style="font-size: 11.040px; font-family: 'Liberation Sans', sans-serif" textLength="8.962" lengthAdjust="spacingAndGlyphs">m</tspan>
<tspan x="28.197144" y="-0.873438" style="font-size: 11.040px; font-family: 'Liberation Sans', sans-serif" textLength="5.548" lengthAdjust="spacingAndGlyphs">P</tspan>
<tspan x="33.775146" y="-0.873438" style="font-size: 11.040px; font-family: 'Liberation Sans', sans-serif"> </tspan>
<tspan x="36.715454" y="-0.873438" style="font-size: 11.040px; font-family: 'Liberation Sans', sans-serif" textLength="5.058" lengthAdjust="spacingAndGlyphs">c</tspan>
<tspan x="41.801147" y="-0.873438" style="font-size: 11.040px; font-family: 'Liberation Sans', sans-serif" textLength="5.629" lengthAdjust="spacingAndGlyphs">o</tspan>
<tspan x="47.460449" y="-0.873438" style="font-size: 11.040px; font-family: 'Liberation Sans', sans-serif" textLength="5.831" lengthAdjust="spacingAndGlyphs">n</tspan>
<tspan x="53.322998" y="-0.873438" style="font-size: 11.040px; font-family: 'Liberation Sans', sans-serif" textLength="5.058" lengthAdjust="spacingAndGlyphs">c</tspan>
<tspan x="58.408691" y="-0.873438" style="font-size: 11.040px; font-family: 'Liberation Sans', sans-serif" textLength="5.660" lengthAdjust="spacingAndGlyphs">e</tspan>
<tspan x="64.099609" y="-0.873438" style="font-size: 11.040px; font-family: 'Liberation Sans', sans-serif" textLength="5.831" lengthAdjust="spacingAndGlyphs">n</tspan>
<tspan x="69.962158" y="-0.873438" style="font-size: 11.040px; font-family: 'Liberation Sans', sans-serif" textLength="3.607" lengthAdjust="spacingAndGlyphs">t</tspan>
<tspan x="73.588989" y="-0.873438" style="font-size: 11.040px; font-family: 'Liberation Sans', sans-serif" textLength="3.782" lengthAdjust="spacingAndGlyphs">r</tspan>
<tspan x="77.391968" y="-0.873438" style="font-size: 11.040px; font-family: 'Liberation Sans', sans-serif" textLength="5.638" lengthAdjust="spacingAndGlyphs">a</tspan>
<tspan x="83.060303" y="-0.873438" style="font-size: 11.040px; font-family: 'Liberation Sans', sans-serif" textLength="3.607" lengthAdjust="spacingAndGlyphs">t</tspan>
<tspan x="86.687134" y="-0.873438" style="font-size: 11.040px; font-family: 'Liberation Sans', sans-serif" textLength="2.556" lengthAdjust="spacingAndGlyphs">i</tspan>
<tspan x="89.25708" y="-0.873438" style="font-size: 11.040px; font-family: 'Liberation Sans', sans-serif" textLength="5.629" lengthAdjust="spacingAndGlyphs">o</tspan>
<tspan x="94.916382" y="-0.873438" style="font-size: 11.040px; font-family: 'Liberation Sans', sans-serif" textLength="5.831" lengthAdjust="spacingAndGlyphs">n</tspan>
<tspan x="100.778931" y="-0.873438" style="font-size: 11.040px; font-family: 'Liberation Sans', sans-serif" textLength="4.793" lengthAdjust="spacingAndGlyphs">s</tspan>
<tspan x="105.598145" y="-0.873438" style="font-size: 11.040px; font-family: 'Liberation Sans', sans-serif"> </tspan>
<tspan x="108.538452" y="-0.873438" style="font-size: 11.040px; font-family: 'Liberation Sans', sans-serif" textLength="3.589" lengthAdjust="spacingAndGlyphs">(</tspan>
<tspan x="112.147217" y="-0.873438" style="font-size: 11.040px; font-family: 'Liberation Sans', sans-serif" textLength="5.831" lengthAdjust="spacingAndGlyphs">n</tspan>
<tspan x="118.009766" y="-0.873438" style="font-size: 11.040px; font-family: 'Liberation Sans', sans-serif" textLength="5.840" lengthAdjust="spacingAndGlyphs">g</tspan>
<tspan x="123.881348" y="-0.873438" style="font-size: 11.040px; font-family: 'Liberation Sans', sans-serif"> </tspan>
<tspan x="126.821655" y="-0.873438" style="font-size: 11.040px; font-family: 'Liberation Sans', sans-serif" textLength="8.962" lengthAdjust="spacingAndGlyphs">m</tspan>
<tspan x="145.709436" y="-0.873438" style="font-size: 11.040px; font-family: 'Liberation Sans', sans-serif" textLength="3.589" lengthAdjust="spacingAndGlyphs">)</tspan>
<tspan x="135.918408" y="-4.31875" style="font-size: 7.728px; font-family: 'Liberation Sans', sans-serif" textLength="5.396" lengthAdjust="spacingAndGlyphs">−</tspan>
<tspan x="141.34375" y="-4.31875" style="font-size: 7.728px; font-family: 'Liberation Sans', sans-serif" textLength="4.097" lengthAdjust="spacingAndGlyphs">3</tspan>
</text>
</g>
</g>
</g>
<g id="line2d_93">
<path d="M 389.274793 231.235463 
L 409.695688 230.932538 
L 446.603494 229.539954 
L 469.056996 228.151204 
L 478.969847 227.293049 
L 490.443917 226.047388 
L 500.083977 224.785498 
L 522.810269 221.521069 
L 547.362479 217.720958 
L 556.315859 216.272012 
L 562.190878 215.284814 
L 566.301184 214.348198 
L 570.790887 213.089752 
L 575.807955 211.450385 
L 581.161874 209.465973 
L 586.504117 207.25065 
L 591.366759 204.996754 
L 596.281225 202.468443 
L 602.592472 198.9509 
L 610.733392 194.159907 
L 617.079083 190.18254 
L 622.620051 186.444137 
L 628.743359 182.032771 
L 633.86157 178.190837 
L 633.86157 178.190837 
" clip-path="url(#p17f8176287)" style="fill: none; stroke: #bfbf00; stroke-width: 1.4; stroke-linecap: square"/>
</g>
<g id="line2d_94">
<path d="M 389.274793 226.734053 
L 409.695688 223.757341 
L 459.919484 214.987815 
L 467.024389 213.522631 
L 472.744443 212.050465 
L 477.532434 210.566454 
L 482.903832 208.646574 
L 488.479114 206.382988 
L 493.165338 204.251426 
L 497.953329 201.847088 
L 503.324727 198.909386 
L 508.900009 195.603438 
L 513.586233 192.571068 
L 518.740205 188.954945 
L 525.241432 184.101594 
L 532.221059 178.61782 
L 538.237478 173.613595 
L 543.231165 169.176813 
L 547.772617 164.84791 
L 552.17799 160.336603 
L 556.619063 155.45812 
L 561.687257 149.540968 
L 570.099132 139.31851 
L 576.481678 131.284519 
L 581.379622 124.749453 
L 587.29555 116.453361 
L 602.739936 94.632441 
L 608.796749 86.53663 
L 613.644559 80.413343 
L 617.80624 75.505445 
L 621.61869 71.347582 
L 625.210245 67.754106 
L 628.638856 64.632767 
L 631.929001 61.934039 
L 633.86157 60.488491 
L 633.86157 60.488491 
" clip-path="url(#p17f8176287)" style="fill: none; stroke: #bf00bf; stroke-width: 1.4; stroke-linecap: square"/>
</g>
<g id="line2d_95">
<path d="M 389.274793 197.513811 
L 409.695688 183.442986 
L 421.641146 173.813695 
L 430.116584 165.793249 
L 436.690643 158.849875 
L 442.062041 152.683726 
L 446.603494 147.144012 
L 454.007499 137.665726 
L 464.841085 123.32872 
L 470.958374 114.863148 
L 480.340379 101.351887 
L 488.479114 89.714284 
L 494.019344 82.184149 
L 498.680801 76.230814 
L 502.70447 71.445997 
L 506.244056 67.562188 
L 509.40363 64.390919 
L 512.706732 61.40529 
L 515.676551 59.028455 
L 518.374224 57.131871 
L 521.182169 55.427331 
L 524.050921 53.968124 
L 526.664951 52.879184 
L 529.573791 51.920045 
L 532.45033 51.20633 
L 535.69108 50.637953 
L 539.3424 50.230084 
L 543.858021 49.958734 
L 550.369992 49.81288 
L 565.26994 49.771821 
L 633.86157 49.771364 
L 633.86157 49.771364 
" clip-path="url(#p17f8176287)" style="fill: none; stroke: #ff0000; stroke-width: 1.4; stroke-linecap: square"/>
</g>
<g id="line2d_96">
<path d="M 389.274793 55.248807 
L 409.695688 45.697858 
L 421.641146 44.933821 
L 633.86157 44.931803 
L 633.86157 44.931803 
" clip-path="url(#p17f8176287)" style="fill: none; stroke: #000000; stroke-width: 1.4; stroke-linecap: square"/>
</g>
<g id="patch_9">
<path d="M 377.045455 240.681818 
L 377.045455 36.136364 
" style="fill: none; stroke: #000000; stroke-width: 0.8; stroke-linejoin: miter; stroke-linecap: square"/>
</g>
<g id="patch_10">
<path d="M 646.090909 240.681818 
L 646.090909 36.136364 
" style="fill: none; stroke: #000000; stroke-width: 0.8; stroke-linejoin: miter; stroke-linecap: square"/>
</g>
<g id="patch_11">
<path d="M 377.045455 240.681818 
L 646.090909 240.681818 
" style="fill: none; stroke: #000000; stroke-width: 0.8; stroke-linejoin: miter; stroke-linecap: square"/>
</g>
<g id="patch_12">
<path d="M 377.045455 36.136364 
L 646.090909 36.136364 
" style="fill: none; stroke: #000000; stroke-width: 0.8; stroke-linejoin: miter; stroke-linecap: square"/>
</g>
<g id="text_30">
<text style="font-size: 14.400px; font-family: 'Liberation Sans', sans-serif" transform="translate(381.591307 16.698989)" textLength="259.958" lengthAdjust="spacingAndGlyphs">b) Condensation on C=16 and 4 OH groups</text>
<text style="font-size: 14.400px; font-family: 'Liberation Sans', sans-serif" transform="translate(460.0399 31.2273)" textLength="105.786" lengthAdjust="spacingAndGlyphs">with changing RH</text>
</g>
<g id="legend_2">
<g id="patch_13">
<path d="M 384.395455 170.845653 
L 465.324205 170.845653 
Q 467.424205 170.845653 467.424205 168.745653 
L 467.424205 106.572528 
Q 467.424205 104.472528 465.324205 104.472528 
L 384.395455 104.472528 
Q 382.295455 104.472528 382.295455 106.572528 
L 382.295455 168.745653 
Q 382.295455 170.845653 384.395455 170.845653 
z
" style="fill: #ffffff; opacity: 0.8; stroke: #cccccc; stroke-linejoin: miter"/>
</g>
<g id="line2d_97">
<path d="M 386.495455 112.975888 
L 396.995455 112.975888 
L 407.495455 112.975888 
" style="fill: none; stroke: #bfbf00; stroke-width: 1.4; stroke-linecap: square"/>
</g>
<g id="text_31">
<text style="font-size: 12.600px; font-family: 'Liberation Sans', sans-serif; text-anchor: start" x="415.895455" y="116.650888" transform="rotate(-0 415.895455 116.650888)" textLength="47.327" lengthAdjust="spacingAndGlyphs">RH=10%</text>
</g>
<g id="line2d_98">
<path d="M 386.495455 128.912919 
L 396.995455 128.912919 
L 407.495455 128.912919 
" style="fill: none; stroke: #bf00bf; stroke-width: 1.4; stroke-linecap: square"/>
</g>
<g id="text_32">
<text style="font-size: 12.600px; font-family: 'Liberation Sans', sans-serif; text-anchor: start" x="415.895455" y="132.587919" transform="rotate(-0 415.895455 132.587919)" textLength="47.327" lengthAdjust="spacingAndGlyphs">RH=30%</text>
</g>
<g id="line2d_99">
<path d="M 386.495455 144.84995 
L 396.995455 144.84995 
L 407.495455 144.84995 
" style="fill: none; stroke: #ff0000; stroke-width: 1.4; stroke-linecap: square"/>
</g>
<g id="text_33">
<text style="font-size: 12.600px; font-family: 'Liberation Sans', sans-serif; text-anchor: start" x="415.895455" y="148.52495" transform="rotate(-0 415.895455 148.52495)" textLength="47.327" lengthAdjust="spacingAndGlyphs">RH=50%</text>
</g>
<g id="line2d_100">
<path d="M 386.495455 160.786982 
L 396.995455 160.786982 
L 407.495455 160.786982 
" style="fill: none; stroke: #000000; stroke-width: 1.4; stroke-linecap: square"/>
</g>
<g id="text_34">
<text style="font-size: 12.600px; font-family: 'Liberation Sans', sans-serif; text-anchor: start" x="415.895455" y="164.461982" transform="rotate(-0 415.895455 164.461982)" textLength="47.327" lengthAdjust="spacingAndGlyphs">RH=70%</text>
</g>
</g>
</g>
<g id="axes_3">
<g id="patch_14">
<path d="M 43.636364 511.363636 
L 312.954545 511.363636 
L 312.954545 307.5 
L 43.636364 307.5 
z
" style="fill: #ffffff"/>
</g>
<g id="matplotlib.axis_5">
<g id="xtick_73">
<g id="line2d_101">
<g>
<use href="#mc3e03fb9f3" x="108.718857" y="511.363636" style="stroke: #000000; stroke-width: 0.8"/>
</g>
</g>
<g id="text_35">
<g transform="translate(99.918857 525.962074)">
<text>
<tspan x="0" y="-0.976562" style="font-size: 12.000px; font-family: 'Liberation Sans', sans-serif" textLength="6.362" lengthAdjust="spacingAndGlyphs">1</tspan>
<tspan x="6.362305" y="-0.976562" style="font-size: 12.000px; font-family: 'Liberation Sans', sans-serif" textLength="6.362" lengthAdjust="spacingAndGlyphs">0</tspan>
<tspan x="12.820312" y="-4.804688" style="font-size: 8.400px; font-family: 'Liberation Sans', sans-serif" textLength="4.454" lengthAdjust="spacingAndGlyphs">0</tspan>
</text>
</g>
</g>
</g>
<g id="xtick_74">
<g id="line2d_102">
<g>
<use href="#mc3e03fb9f3" x="176.624367" y="511.363636" style="stroke: #000000; stroke-width: 0.8"/>
</g>
</g>
<g id="text_36">
<g transform="translate(167.824367 525.962074)">
<text>
<tspan x="0" y="-0.064063" style="font-size: 12.000px; font-family: 'Liberation Sans', sans-serif" textLength="6.362" lengthAdjust="spacingAndGlyphs">1</tspan>
<tspan x="6.362305" y="-0.064063" style="font-size: 12.000px; font-family: 'Liberation Sans', sans-serif" textLength="6.362" lengthAdjust="spacingAndGlyphs">0</tspan>
<tspan x="12.820312" y="-3.892188" style="font-size: 8.400px; font-family: 'Liberation Sans', sans-serif" textLength="4.454" lengthAdjust="spacingAndGlyphs">1</tspan>
</text>
</g>
</g>
</g>
<g id="xtick_75">
<g id="line2d_103">
<g>
<use href="#mc3e03fb9f3" x="244.529877" y="511.363636" style="stroke: #000000; stroke-width: 0.8"/>
</g>
</g>
<g id="text_37">
<g transform="translate(235.729877 525.962074)">
<text>
<tspan x="0" y="-0.976562" style="font-size: 12.000px; font-family: 'Liberation Sans', sans-serif" textLength="6.362" lengthAdjust="spacingAndGlyphs">1</tspan>
<tspan x="6.362305" y="-0.976562" style="font-size: 12.000px; font-family: 'Liberation Sans', sans-serif" textLength="6.362" lengthAdjust="spacingAndGlyphs">0</tspan>
<tspan x="12.820312" y="-4.804688" style="font-size: 8.400px; font-family: 'Liberation Sans', sans-serif" textLength="4.454" lengthAdjust="spacingAndGlyphs">2</tspan>
</text>
</g>
</g>
</g>
<g id="xtick_76">
<g id="line2d_104">
<g>
<use href="#mc3e03fb9f3" x="312.435388" y="511.363636" style="stroke: #000000; stroke-width: 0.8"/>
</g>
</g>
<g id="text_38">
<g transform="translate(303.635388 525.962074)">
<text>
<tspan x="0" y="-0.976562" style="font-size: 12.000px; font-family: 'Liberation Sans', sans-serif" textLength="6.362" lengthAdjust="spacingAndGlyphs">1</tspan>
<tspan x="6.362305" y="-0.976562" style="font-size: 12.000px; font-family: 'Liberation Sans', sans-serif" textLength="6.362" lengthAdjust="spacingAndGlyphs">0</tspan>
<tspan x="12.820312" y="-4.804688" style="font-size: 8.400px; font-family: 'Liberation Sans', sans-serif" textLength="4.454" lengthAdjust="spacingAndGlyphs">3</tspan>
</text>
</g>
</g>
</g>
<g id="xtick_77">
<g id="line2d_105">
<g>
<use href="#m08e8c4e3fb" x="61.254942" y="511.363636" style="stroke: #000000; stroke-width: 0.6"/>
</g>
</g>
</g>
<g id="xtick_78">
<g id="line2d_106">
<g>
<use href="#m08e8c4e3fb" x="73.212509" y="511.363636" style="stroke: #000000; stroke-width: 0.6"/>
</g>
</g>
</g>
<g id="xtick_79">
<g id="line2d_107">
<g>
<use href="#m08e8c4e3fb" x="81.696538" y="511.363636" style="stroke: #000000; stroke-width: 0.6"/>
</g>
</g>
</g>
<g id="xtick_80">
<g id="line2d_108">
<g>
<use href="#m08e8c4e3fb" x="88.277261" y="511.363636" style="stroke: #000000; stroke-width: 0.6"/>
</g>
</g>
</g>
<g id="xtick_81">
<g id="line2d_109">
<g>
<use href="#m08e8c4e3fb" x="93.654104" y="511.363636" style="stroke: #000000; stroke-width: 0.6"/>
</g>
</g>
</g>
<g id="xtick_82">
<g id="line2d_110">
<g>
<use href="#m08e8c4e3fb" x="98.20016" y="511.363636" style="stroke: #000000; stroke-width: 0.6"/>
</g>
</g>
</g>
<g id="xtick_83">
<g id="line2d_111">
<g>
<use href="#m08e8c4e3fb" x="102.138133" y="511.363636" style="stroke: #000000; stroke-width: 0.6"/>
</g>
</g>
</g>
<g id="xtick_84">
<g id="line2d_112">
<g>
<use href="#m08e8c4e3fb" x="105.611671" y="511.363636" style="stroke: #000000; stroke-width: 0.6"/>
</g>
</g>
</g>
<g id="xtick_85">
<g id="line2d_113">
<g>
<use href="#m08e8c4e3fb" x="129.160452" y="511.363636" style="stroke: #000000; stroke-width: 0.6"/>
</g>
</g>
</g>
<g id="xtick_86">
<g id="line2d_114">
<g>
<use href="#m08e8c4e3fb" x="141.118019" y="511.363636" style="stroke: #000000; stroke-width: 0.6"/>
</g>
</g>
</g>
<g id="xtick_87">
<g id="line2d_115">
<g>
<use href="#m08e8c4e3fb" x="149.602048" y="511.363636" style="stroke: #000000; stroke-width: 0.6"/>
</g>
</g>
</g>
<g id="xtick_88">
<g id="line2d_116">
<g>
<use href="#m08e8c4e3fb" x="156.182772" y="511.363636" style="stroke: #000000; stroke-width: 0.6"/>
</g>
</g>
</g>
<g id="xtick_89">
<g id="line2d_117">
<g>
<use href="#m08e8c4e3fb" x="161.559615" y="511.363636" style="stroke: #000000; stroke-width: 0.6"/>
</g>
</g>
</g>
<g id="xtick_90">
<g id="line2d_118">
<g>
<use href="#m08e8c4e3fb" x="166.10567" y="511.363636" style="stroke: #000000; stroke-width: 0.6"/>
</g>
</g>
</g>
<g id="xtick_91">
<g id="line2d_119">
<g>
<use href="#m08e8c4e3fb" x="170.043643" y="511.363636" style="stroke: #000000; stroke-width: 0.6"/>
</g>
</g>
</g>
<g id="xtick_92">
<g id="line2d_120">
<g>
<use href="#m08e8c4e3fb" x="173.517181" y="511.363636" style="stroke: #000000; stroke-width: 0.6"/>
</g>
</g>
</g>
<g id="xtick_93">
<g id="line2d_121">
<g>
<use href="#m08e8c4e3fb" x="197.065963" y="511.363636" style="stroke: #000000; stroke-width: 0.6"/>
</g>
</g>
</g>
<g id="xtick_94">
<g id="line2d_122">
<g>
<use href="#m08e8c4e3fb" x="209.023529" y="511.363636" style="stroke: #000000; stroke-width: 0.6"/>
</g>
</g>
</g>
<g id="xtick_95">
<g id="line2d_123">
<g>
<use href="#m08e8c4e3fb" x="217.507558" y="511.363636" style="stroke: #000000; stroke-width: 0.6"/>
</g>
</g>
</g>
<g id="xtick_96">
<g id="line2d_124">
<g>
<use href="#m08e8c4e3fb" x="224.088282" y="511.363636" style="stroke: #000000; stroke-width: 0.6"/>
</g>
</g>
</g>
<g id="xtick_97">
<g id="line2d_125">
<g>
<use href="#m08e8c4e3fb" x="229.465125" y="511.363636" style="stroke: #000000; stroke-width: 0.6"/>
</g>
</g>
</g>
<g id="xtick_98">
<g id="line2d_126">
<g>
<use href="#m08e8c4e3fb" x="234.011181" y="511.363636" style="stroke: #000000; stroke-width: 0.6"/>
</g>
</g>
</g>
<g id="xtick_99">
<g id="line2d_127">
<g>
<use href="#m08e8c4e3fb" x="237.949153" y="511.363636" style="stroke: #000000; stroke-width: 0.6"/>
</g>
</g>
</g>
<g id="xtick_100">
<g id="line2d_128">
<g>
<use href="#m08e8c4e3fb" x="241.422692" y="511.363636" style="stroke: #000000; stroke-width: 0.6"/>
</g>
</g>
</g>
<g id="xtick_101">
<g id="line2d_129">
<g>
<use href="#m08e8c4e3fb" x="264.971473" y="511.363636" style="stroke: #000000; stroke-width: 0.6"/>
</g>
</g>
</g>
<g id="xtick_102">
<g id="line2d_130">
<g>
<use href="#m08e8c4e3fb" x="276.92904" y="511.363636" style="stroke: #000000; stroke-width: 0.6"/>
</g>
</g>
</g>
<g id="xtick_103">
<g id="line2d_131">
<g>
<use href="#m08e8c4e3fb" x="285.413068" y="511.363636" style="stroke: #000000; stroke-width: 0.6"/>
</g>
</g>
</g>
<g id="xtick_104">
<g id="line2d_132">
<g>
<use href="#m08e8c4e3fb" x="291.993792" y="511.363636" style="stroke: #000000; stroke-width: 0.6"/>
</g>
</g>
</g>
<g id="xtick_105">
<g id="line2d_133">
<g>
<use href="#m08e8c4e3fb" x="297.370635" y="511.363636" style="stroke: #000000; stroke-width: 0.6"/>
</g>
</g>
</g>
<g id="xtick_106">
<g id="line2d_134">
<g>
<use href="#m08e8c4e3fb" x="301.916691" y="511.363636" style="stroke: #000000; stroke-width: 0.6"/>
</g>
</g>
</g>
<g id="xtick_107">
<g id="line2d_135">
<g>
<use href="#m08e8c4e3fb" x="305.854664" y="511.363636" style="stroke: #000000; stroke-width: 0.6"/>
</g>
</g>
</g>
<g id="xtick_108">
<g id="line2d_136">
<g>
<use href="#m08e8c4e3fb" x="309.328202" y="511.363636" style="stroke: #000000; stroke-width: 0.6"/>
</g>
</g>
</g>
<g id="text_39">
<text style="font-size: 11.040px; font-family: 'Liberation Sans', sans-serif; text-anchor: middle" x="178.295455" y="539.032324" transform="rotate(-0 178.295455 539.032324)" textLength="38.449" lengthAdjust="spacingAndGlyphs">Time (h)</text>
</g>
</g>
<g id="matplotlib.axis_6">
<g id="ytick_13">
<g id="line2d_137">
<g>
<use href="#m2a3950ff30" x="43.636364" y="503.863636" style="stroke: #000000; stroke-width: 0.8"/>
</g>
</g>
<g id="text_40">
<text style="font-size: 12.000px; font-family: 'Liberation Sans', sans-serif; text-anchor: end" x="36.636364" y="507.662855" transform="rotate(-0 36.636364 507.662855)" textLength="15.903" lengthAdjust="spacingAndGlyphs">0.0</text>
</g>
</g>
<g id="ytick_14">
<g id="line2d_138">
<g>
<use href="#m2a3950ff30" x="43.636364" y="467.318182" style="stroke: #000000; stroke-width: 0.8"/>
</g>
</g>
<g id="text_41">
<text style="font-size: 12.000px; font-family: 'Liberation Sans', sans-serif; text-anchor: end" x="36.636364" y="471.117401" transform="rotate(-0 36.636364 471.117401)" textLength="15.903" lengthAdjust="spacingAndGlyphs">0.1</text>
</g>
</g>
<g id="ytick_15">
<g id="line2d_139">
<g>
<use href="#m2a3950ff30" x="43.636364" y="430.772727" style="stroke: #000000; stroke-width: 0.8"/>
</g>
</g>
<g id="text_42">
<text style="font-size: 12.000px; font-family: 'Liberation Sans', sans-serif; text-anchor: end" x="36.636364" y="434.571946" transform="rotate(-0 36.636364 434.571946)" textLength="15.903" lengthAdjust="spacingAndGlyphs">0.2</text>
</g>
</g>
<g id="ytick_16">
<g id="line2d_140">
<g>
<use href="#m2a3950ff30" x="43.636364" y="394.227273" style="stroke: #000000; stroke-width: 0.8"/>
</g>
</g>
<g id="text_43">
<text style="font-size: 12.000px; font-family: 'Liberation Sans', sans-serif; text-anchor: end" x="36.636364" y="398.026491" transform="rotate(-0 36.636364 398.026491)" textLength="15.903" lengthAdjust="spacingAndGlyphs">0.3</text>
</g>
</g>
<g id="ytick_17">
<g id="line2d_141">
<g>
<use href="#m2a3950ff30" x="43.636364" y="357.681818" style="stroke: #000000; stroke-width: 0.8"/>
</g>
</g>
<g id="text_44">
<text style="font-size: 12.000px; font-family: 'Liberation Sans', sans-serif; text-anchor: end" x="36.636364" y="361.481037" transform="rotate(-0 36.636364 361.481037)" textLength="15.903" lengthAdjust="spacingAndGlyphs">0.4</text>
</g>
</g>
<g id="ytick_18">
<g id="line2d_142">
<g>
<use href="#m2a3950ff30" x="43.636364" y="321.136364" style="stroke: #000000; stroke-width: 0.8"/>
</g>
</g>
<g id="text_45">
<text style="font-size: 12.000px; font-family: 'Liberation Sans', sans-serif; text-anchor: end" x="36.636364" y="324.935582" transform="rotate(-0 36.636364 324.935582)" textLength="15.903" lengthAdjust="spacingAndGlyphs">0.5</text>
</g>
</g>
<g id="text_46">
<g transform="translate(14.801239 483.721818) rotate(-90)">
<text>
<tspan x="0" y="-0.873438" style="font-size: 11.040px; font-family: 'Liberation Sans', sans-serif" textLength="5.548" lengthAdjust="spacingAndGlyphs">P</tspan>
<tspan x="5.578003" y="-0.873438" style="font-size: 11.040px; font-family: 'Liberation Sans', sans-serif" textLength="7.241" lengthAdjust="spacingAndGlyphs">O</tspan>
<tspan x="12.858765" y="-0.873438" style="font-size: 11.040px; font-family: 'Liberation Sans', sans-serif" textLength="6.294" lengthAdjust="spacingAndGlyphs">A</tspan>
<tspan x="19.186523" y="-0.873438" style="font-size: 11.040px; font-family: 'Liberation Sans', sans-serif" textLength="8.962" lengthAdjust="spacingAndGlyphs">m</tspan>
<tspan x="28.197144" y="-0.873438" style="font-size: 11.040px; font-family: 'Liberation Sans', sans-serif" textLength="5.548" lengthAdjust="spacingAndGlyphs">P</tspan>
<tspan x="33.775146" y="-0.873438" style="font-size: 11.040px; font-family: 'Liberation Sans', sans-serif"> </tspan>
<tspan x="36.715454" y="-0.873438" style="font-size: 11.040px; font-family: 'Liberation Sans', sans-serif" textLength="5.058" lengthAdjust="spacingAndGlyphs">c</tspan>
<tspan x="41.801147" y="-0.873438" style="font-size: 11.040px; font-family: 'Liberation Sans', sans-serif" textLength="5.629" lengthAdjust="spacingAndGlyphs">o</tspan>
<tspan x="47.460449" y="-0.873438" style="font-size: 11.040px; font-family: 'Liberation Sans', sans-serif" textLength="5.831" lengthAdjust="spacingAndGlyphs">n</tspan>
<tspan x="53.322998" y="-0.873438" style="font-size: 11.040px; font-family: 'Liberation Sans', sans-serif" textLength="5.058" lengthAdjust="spacingAndGlyphs">c</tspan>
<tspan x="58.408691" y="-0.873438" style="font-size: 11.040px; font-family: 'Liberation Sans', sans-serif" textLength="5.660" lengthAdjust="spacingAndGlyphs">e</tspan>
<tspan x="64.099609" y="-0.873438" style="font-size: 11.040px; font-family: 'Liberation Sans', sans-serif" textLength="5.831" lengthAdjust="spacingAndGlyphs">n</tspan>
<tspan x="69.962158" y="-0.873438" style="font-size: 11.040px; font-family: 'Liberation Sans', sans-serif" textLength="3.607" lengthAdjust="spacingAndGlyphs">t</tspan>
<tspan x="73.588989" y="-0.873438" style="font-size: 11.040px; font-family: 'Liberation Sans', sans-serif" textLength="3.782" lengthAdjust="spacingAndGlyphs">r</tspan>
<tspan x="77.391968" y="-0.873438" style="font-size: 11.040px; font-family: 'Liberation Sans', sans-serif" textLength="5.638" lengthAdjust="spacingAndGlyphs">a</tspan>
<tspan x="83.060303" y="-0.873438" style="font-size: 11.040px; font-family: 'Liberation Sans', sans-serif" textLength="3.607" lengthAdjust="spacingAndGlyphs">t</tspan>
<tspan x="86.687134" y="-0.873438" style="font-size: 11.040px; font-family: 'Liberation Sans', sans-serif" textLength="2.556" lengthAdjust="spacingAndGlyphs">i</tspan>
<tspan x="89.25708" y="-0.873438" style="font-size: 11.040px; font-family: 'Liberation Sans', sans-serif" textLength="5.629" lengthAdjust="spacingAndGlyphs">o</tspan>
<tspan x="94.916382" y="-0.873438" style="font-size: 11.040px; font-family: 'Liberation Sans', sans-serif" textLength="5.831" lengthAdjust="spacingAndGlyphs">n</tspan>
<tspan x="100.778931" y="-0.873438" style="font-size: 11.040px; font-family: 'Liberation Sans', sans-serif" textLength="4.793" lengthAdjust="spacingAndGlyphs">s</tspan>
<tspan x="105.598145" y="-0.873438" style="font-size: 11.040px; font-family: 'Liberation Sans', sans-serif"> </tspan>
<tspan x="108.538452" y="-0.873438" style="font-size: 11.040px; font-family: 'Liberation Sans', sans-serif" textLength="3.589" lengthAdjust="spacingAndGlyphs">(</tspan>
<tspan x="112.147217" y="-0.873438" style="font-size: 11.040px; font-family: 'Liberation Sans', sans-serif" textLength="5.831" lengthAdjust="spacingAndGlyphs">n</tspan>
<tspan x="118.009766" y="-0.873438" style="font-size: 11.040px; font-family: 'Liberation Sans', sans-serif" textLength="5.840" lengthAdjust="spacingAndGlyphs">g</tspan>
<tspan x="123.881348" y="-0.873438" style="font-size: 11.040px; font-family: 'Liberation Sans', sans-serif"> </tspan>
<tspan x="126.821655" y="-0.873438" style="font-size: 11.040px; font-family: 'Liberation Sans', sans-serif" textLength="8.962" lengthAdjust="spacingAndGlyphs">m</tspan>
<tspan x="145.709436" y="-0.873438" style="font-size: 11.040px; font-family: 'Liberation Sans', sans-serif" textLength="3.589" lengthAdjust="spacingAndGlyphs">)</tspan>
<tspan x="135.918408" y="-4.31875" style="font-size: 7.728px; font-family: 'Liberation Sans', sans-serif" textLength="5.396" lengthAdjust="spacingAndGlyphs">−</tspan>
<tspan x="141.34375" y="-4.31875" style="font-size: 7.728px; font-family: 'Liberation Sans', sans-serif" textLength="4.097" lengthAdjust="spacingAndGlyphs">3</tspan>
</text>
</g>
</g>
</g>
<g id="line2d_143">
<path d="M 55.878099 376.487052 
L 76.319695 345.889185 
L 88.277261 330.873328 
L 96.76129 323.607786 
L 103.342014 320.048116 
L 108.718857 318.261233 
L 113.264913 317.346365 
L 117.202886 316.871305 
L 120.676424 316.623517 
L 123.783609 316.495098 
" clip-path="url(#p3fd82d7ed6)" style="fill: none; stroke: #0000ff; stroke-width: 1.4; stroke-linecap: square"/>
</g>
<g id="line2d_144">
<path d="M 55.878099 384.690699 
L 76.319695 354.700119 
L 88.277261 337.633837 
L 96.76129 328.248477 
L 103.342014 323.136878 
L 108.718857 320.313409 
L 113.264913 318.715856 
L 117.202886 317.783803 
L 120.676424 317.223851 
L 126.594401 316.674452 
L 133.706508 316.430143 
L 147.035996 316.366451 
L 270.327829 316.365 
L 270.327829 316.365 
" clip-path="url(#p3fd82d7ed6)" style="fill: none; stroke: #00bfbf; stroke-width: 1.4; stroke-linecap: square"/>
</g>
<g id="line2d_145">
<path d="M 55.878099 490.247468 
L 76.319695 485.080192 
L 88.277261 481.162131 
L 96.76129 477.701922 
L 103.342014 474.549208 
L 108.718857 471.693685 
L 117.202886 466.8206 
L 123.783609 462.678196 
L 129.160452 459.002441 
L 135.741176 454.121812 
L 141.118019 449.816745 
L 147.035996 444.731457 
L 151.962586 440.167755 
L 156.182772 435.97211 
L 160.728828 431.135027 
L 165.39501 425.833337 
L 170.043643 420.228671 
L 175.111677 413.770755 
L 180.746085 406.206759 
L 187.582144 396.609986 
L 210.305948 364.351147 
L 221.52223 348.824772 
L 226.629747 342.137537 
L 230.590258 337.31115 
L 233.94088 333.566889 
L 237.012853 330.459367 
L 239.910002 327.839527 
L 242.70511 325.607537 
L 245.449277 323.699093 
L 248.134196 322.098107 
L 250.834059 320.744207 
L 253.597905 319.608928 
L 256.454658 318.679243 
L 259.476429 317.932541 
L 262.804854 317.344457 
L 266.596995 316.907006 
L 271.196164 316.609466 
L 277.609257 316.436394 
L 290.03276 316.365832 
L 296.933234 316.362604 
L 296.933234 316.362604 
" clip-path="url(#p3fd82d7ed6)" style="fill: none; stroke: #bf00bf; stroke-width: 1.4; stroke-linecap: square"/>
</g>
<g id="line2d_146">
<path d="M 55.878099 494.510132 
L 76.319695 490.744287 
L 88.277261 488.037668 
L 96.76129 485.782276 
L 103.342014 483.792576 
L 113.264913 480.502539 
L 120.676424 477.750804 
L 126.594401 475.217362 
L 131.520991 472.812399 
L 137.644481 469.442105 
L 148.346923 463.054172 
L 156.182772 458.232738 
L 160.728828 455.10039 
L 165.39501 451.54796 
L 170.043643 447.721761 
L 175.111677 443.27641 
L 180.315552 438.431237 
L 185.474748 433.328159 
L 190.485239 428.062535 
L 195.293438 422.693471 
L 199.876754 417.233752 
L 204.230685 411.690643 
L 208.859234 405.428161 
L 215.075253 396.602237 
L 236.949363 365.25953 
L 249.865732 347.189684 
L 254.662677 340.871188 
L 258.452125 336.236813 
L 261.754858 332.541872 
L 264.749457 329.519273 
L 267.557997 326.996674 
L 270.22518 324.894895 
L 272.822064 323.126698 
L 275.399098 321.63763 
L 278.006823 320.386376 
L 280.692418 319.344427 
L 283.522868 318.485871 
L 286.593347 317.78966 
L 290.043264 317.240799 
L 294.080842 316.831159 
L 299.119939 316.554095 
L 300.71281 316.502575 
L 300.71281 316.502575 
" clip-path="url(#p3fd82d7ed6)" style="fill: none; stroke: #ff0000; stroke-width: 1.4; stroke-linecap: square"/>
</g>
<g id="line2d_147">
<path d="M 55.878099 501.815784 
L 131.520991 501.549305 
L 181.170423 501.187004 
L 203.842641 500.860518 
L 220.318349 500.391696 
L 236.821972 499.726172 
L 267.960458 498.061977 
L 278.336686 497.172113 
L 300.71281 495.118525 
L 300.71281 495.118525 
" clip-path="url(#p3fd82d7ed6)" style="fill: none; stroke: #000000; stroke-width: 1.4; stroke-linecap: square"/>
</g>
<g id="patch_15">
<path d="M 43.636364 511.363636 
L 43.636364 307.5 
" style="fill: none; stroke: #000000; stroke-width: 0.8; stroke-linejoin: miter; stroke-linecap: square"/>
</g>
<g id="patch_16">
<path d="M 312.954545 511.363636 
L 312.954545 307.5 
" style="fill: none; stroke: #000000; stroke-width: 0.8; stroke-linejoin: miter; stroke-linecap: square"/>
</g>
<g id="patch_17">
<path d="M 43.636364 511.363636 
L 312.954545 511.363636 
" style="fill: none; stroke: #000000; stroke-width: 0.8; stroke-linejoin: miter; stroke-linecap: square"/>
</g>
<g id="patch_18">
<path d="M 43.636364 307.5 
L 312.954545 307.5 
" style="fill: none; stroke: #000000; stroke-width: 0.8; stroke-linejoin: miter; stroke-linecap: square"/>
</g>
<g id="text_47">
<text style="font-size: 14.400px; font-family: 'Liberation Sans', sans-serif" transform="translate(59.199205 288.062625)" textLength="238.191" lengthAdjust="spacingAndGlyphs">c) Condensation on C=16 and RH=10%</text>
<text style="font-size: 14.400px; font-family: 'Liberation Sans', sans-serif" transform="translate(85.2378 302.5909)" textLength="188.679" lengthAdjust="spacingAndGlyphs">with different functional groups</text>
</g>
<g id="legend_3">
<g id="patch_19">
<path d="M 123.349155 450.586896 
L 305.604545 450.586896 
Q 307.704545 450.586896 307.704545 448.486896 
L 307.704545 370.37674 
Q 307.704545 368.27674 305.604545 368.27674 
L 123.349155 368.27674 
Q 121.249155 368.27674 121.249155 370.37674 
L 121.249155 448.486896 
Q 121.249155 450.586896 123.349155 450.586896 
z
" style="fill: #ffffff; opacity: 0.8; stroke: #cccccc; stroke-linejoin: miter"/>
</g>
<g id="line2d_148">
<path d="M 125.449155 376.780099 
L 135.949155 376.780099 
L 146.449155 376.780099 
" style="fill: none; stroke: #0000ff; stroke-width: 1.4; stroke-linecap: square"/>
</g>
<g id="text_48">
<text style="font-size: 12.600px; font-family: 'Liberation Sans', sans-serif; text-anchor: start" x="154.849155" y="380.455099" transform="rotate(-0 154.849155 380.455099)" textLength="98.858" lengthAdjust="spacingAndGlyphs">1 alcohol + ketone</text>
</g>
<g id="line2d_149">
<path d="M 125.449155 392.717131 
L 135.949155 392.717131 
L 146.449155 392.717131 
" style="fill: none; stroke: #00bfbf; stroke-width: 1.4; stroke-linecap: square"/>
</g>
<g id="text_49">
<text style="font-size: 12.600px; font-family: 'Liberation Sans', sans-serif; text-anchor: start" x="154.849155" y="396.392131" transform="rotate(-0 154.849155 396.392131)" textLength="47.563" lengthAdjust="spacingAndGlyphs">2 alcohol</text>
</g>
<g id="line2d_150">
<path d="M 125.449155 408.654162 
L 135.949155 408.654162 
L 146.449155 408.654162 
" style="fill: none; stroke: #bf00bf; stroke-width: 1.4; stroke-linecap: square"/>
</g>
<g id="text_50">
<text style="font-size: 12.600px; font-family: 'Liberation Sans', sans-serif; text-anchor: start" x="154.849155" y="412.329162" transform="rotate(-0 154.849155 412.329162)" textLength="94.844" lengthAdjust="spacingAndGlyphs">1 alcohol + 1 acid</text>
</g>
<g id="line2d_151">
<path d="M 125.449155 424.591193 
L 135.949155 424.591193 
L 146.449155 424.591193 
" style="fill: none; stroke: #ff0000; stroke-width: 1.4; stroke-linecap: square"/>
</g>
<g id="text_51">
<text style="font-size: 12.600px; font-family: 'Liberation Sans', sans-serif; text-anchor: start" x="154.849155" y="428.266193" transform="rotate(-0 154.849155 428.266193)" textLength="148.667" lengthAdjust="spacingAndGlyphs">1 alcohol + 1 hydroperoxide</text>
</g>
<g id="line2d_152">
<path d="M 125.449155 440.528224 
L 135.949155 440.528224 
L 146.449155 440.528224 
" style="fill: none; stroke: #000000; stroke-width: 1.4; stroke-linecap: square"/>
</g>
<g id="text_52">
<text style="font-size: 12.600px; font-family: 'Liberation Sans', sans-serif; text-anchor: start" x="154.849155" y="444.203224" transform="rotate(-0 154.849155 444.203224)" textLength="108.072" lengthAdjust="spacingAndGlyphs">1 alcohol + 1 nitrate</text>
</g>
</g>
</g>
<g id="axes_4">
<g id="patch_20">
<path d="M 372.954545 511.363636 
L 642.954545 511.363636 
L 642.954545 308.863636 
L 372.954545 308.863636 
z
" style="fill: #ffffff"/>
</g>
<g id="matplotlib.axis_7">
<g id="xtick_109">
<g id="line2d_153">
<g>
<use href="#mc3e03fb9f3" x="438.201804" y="511.363636" style="stroke: #000000; stroke-width: 0.8"/>
</g>
</g>
<g id="text_53">
<g transform="translate(429.401804 525.962074)">
<text>
<tspan x="0" y="-0.976562" style="font-size: 12.000px; font-family: 'Liberation Sans', sans-serif" textLength="6.362" lengthAdjust="spacingAndGlyphs">1</tspan>
<tspan x="6.362305" y="-0.976562" style="font-size: 12.000px; font-family: 'Liberation Sans', sans-serif" textLength="6.362" lengthAdjust="spacingAndGlyphs">0</tspan>
<tspan x="12.820312" y="-4.804688" style="font-size: 8.400px; font-family: 'Liberation Sans', sans-serif" textLength="4.454" lengthAdjust="spacingAndGlyphs">0</tspan>
</text>
</g>
</g>
</g>
<g id="xtick_110">
<g id="line2d_154">
<g>
<use href="#mc3e03fb9f3" x="506.279227" y="511.363636" style="stroke: #000000; stroke-width: 0.8"/>
</g>
</g>
<g id="text_54">
<g transform="translate(497.479227 525.962074)">
<text>
<tspan x="0" y="-0.064063" style="font-size: 12.000px; font-family: 'Liberation Sans', sans-serif" textLength="6.362" lengthAdjust="spacingAndGlyphs">1</tspan>
<tspan x="6.362305" y="-0.064063" style="font-size: 12.000px; font-family: 'Liberation Sans', sans-serif" textLength="6.362" lengthAdjust="spacingAndGlyphs">0</tspan>
<tspan x="12.820312" y="-3.892188" style="font-size: 8.400px; font-family: 'Liberation Sans', sans-serif" textLength="4.454" lengthAdjust="spacingAndGlyphs">1</tspan>
</text>
</g>
</g>
</g>
<g id="xtick_111">
<g id="line2d_155">
<g>
<use href="#mc3e03fb9f3" x="574.35665" y="511.363636" style="stroke: #000000; stroke-width: 0.8"/>
</g>
</g>
<g id="text_55">
<g transform="translate(565.55665 525.962074)">
<text>
<tspan x="0" y="-0.976562" style="font-size: 12.000px; font-family: 'Liberation Sans', sans-serif" textLength="6.362" lengthAdjust="spacingAndGlyphs">1</tspan>
<tspan x="6.362305" y="-0.976562" style="font-size: 12.000px; font-family: 'Liberation Sans', sans-serif" textLength="6.362" lengthAdjust="spacingAndGlyphs">0</tspan>
<tspan x="12.820312" y="-4.804688" style="font-size: 8.400px; font-family: 'Liberation Sans', sans-serif" textLength="4.454" lengthAdjust="spacingAndGlyphs">2</tspan>
</text>
</g>
</g>
</g>
<g id="xtick_112">
<g id="line2d_156">
<g>
<use href="#mc3e03fb9f3" x="642.434073" y="511.363636" style="stroke: #000000; stroke-width: 0.8"/>
</g>
</g>
<g id="text_56">
<g transform="translate(633.634073 525.962074)">
<text>
<tspan x="0" y="-0.976562" style="font-size: 12.000px; font-family: 'Liberation Sans', sans-serif" textLength="6.362" lengthAdjust="spacingAndGlyphs">1</tspan>
<tspan x="6.362305" y="-0.976562" style="font-size: 12.000px; font-family: 'Liberation Sans', sans-serif" textLength="6.362" lengthAdjust="spacingAndGlyphs">0</tspan>
<tspan x="12.820312" y="-4.804688" style="font-size: 8.400px; font-family: 'Liberation Sans', sans-serif" textLength="4.454" lengthAdjust="spacingAndGlyphs">3</tspan>
</text>
</g>
</g>
</g>
<g id="xtick_113">
<g id="line2d_157">
<g>
<use href="#m08e8c4e3fb" x="390.617728" y="511.363636" style="stroke: #000000; stroke-width: 0.6"/>
</g>
</g>
</g>
<g id="xtick_114">
<g id="line2d_158">
<g>
<use href="#m08e8c4e3fb" x="402.605567" y="511.363636" style="stroke: #000000; stroke-width: 0.6"/>
</g>
</g>
</g>
<g id="xtick_115">
<g id="line2d_159">
<g>
<use href="#m08e8c4e3fb" x="411.111074" y="511.363636" style="stroke: #000000; stroke-width: 0.6"/>
</g>
</g>
</g>
<g id="xtick_116">
<g id="line2d_160">
<g>
<use href="#m08e8c4e3fb" x="417.708458" y="511.363636" style="stroke: #000000; stroke-width: 0.6"/>
</g>
</g>
</g>
<g id="xtick_117">
<g id="line2d_161">
<g>
<use href="#m08e8c4e3fb" x="423.098913" y="511.363636" style="stroke: #000000; stroke-width: 0.6"/>
</g>
</g>
</g>
<g id="xtick_118">
<g id="line2d_162">
<g>
<use href="#m08e8c4e3fb" x="427.656478" y="511.363636" style="stroke: #000000; stroke-width: 0.6"/>
</g>
</g>
</g>
<g id="xtick_119">
<g id="line2d_163">
<g>
<use href="#m08e8c4e3fb" x="431.604421" y="511.363636" style="stroke: #000000; stroke-width: 0.6"/>
</g>
</g>
</g>
<g id="xtick_120">
<g id="line2d_164">
<g>
<use href="#m08e8c4e3fb" x="435.086752" y="511.363636" style="stroke: #000000; stroke-width: 0.6"/>
</g>
</g>
</g>
<g id="xtick_121">
<g id="line2d_165">
<g>
<use href="#m08e8c4e3fb" x="458.695151" y="511.363636" style="stroke: #000000; stroke-width: 0.6"/>
</g>
</g>
</g>
<g id="xtick_122">
<g id="line2d_166">
<g>
<use href="#m08e8c4e3fb" x="470.68299" y="511.363636" style="stroke: #000000; stroke-width: 0.6"/>
</g>
</g>
</g>
<g id="xtick_123">
<g id="line2d_167">
<g>
<use href="#m08e8c4e3fb" x="479.188497" y="511.363636" style="stroke: #000000; stroke-width: 0.6"/>
</g>
</g>
</g>
<g id="xtick_124">
<g id="line2d_168">
<g>
<use href="#m08e8c4e3fb" x="485.785881" y="511.363636" style="stroke: #000000; stroke-width: 0.6"/>
</g>
</g>
</g>
<g id="xtick_125">
<g id="line2d_169">
<g>
<use href="#m08e8c4e3fb" x="491.176336" y="511.363636" style="stroke: #000000; stroke-width: 0.6"/>
</g>
</g>
</g>
<g id="xtick_126">
<g id="line2d_170">
<g>
<use href="#m08e8c4e3fb" x="495.733901" y="511.363636" style="stroke: #000000; stroke-width: 0.6"/>
</g>
</g>
</g>
<g id="xtick_127">
<g id="line2d_171">
<g>
<use href="#m08e8c4e3fb" x="499.681843" y="511.363636" style="stroke: #000000; stroke-width: 0.6"/>
</g>
</g>
</g>
<g id="xtick_128">
<g id="line2d_172">
<g>
<use href="#m08e8c4e3fb" x="503.164175" y="511.363636" style="stroke: #000000; stroke-width: 0.6"/>
</g>
</g>
</g>
<g id="xtick_129">
<g id="line2d_173">
<g>
<use href="#m08e8c4e3fb" x="526.772574" y="511.363636" style="stroke: #000000; stroke-width: 0.6"/>
</g>
</g>
</g>
<g id="xtick_130">
<g id="line2d_174">
<g>
<use href="#m08e8c4e3fb" x="538.760413" y="511.363636" style="stroke: #000000; stroke-width: 0.6"/>
</g>
</g>
</g>
<g id="xtick_131">
<g id="line2d_175">
<g>
<use href="#m08e8c4e3fb" x="547.26592" y="511.363636" style="stroke: #000000; stroke-width: 0.6"/>
</g>
</g>
</g>
<g id="xtick_132">
<g id="line2d_176">
<g>
<use href="#m08e8c4e3fb" x="553.863304" y="511.363636" style="stroke: #000000; stroke-width: 0.6"/>
</g>
</g>
</g>
<g id="xtick_133">
<g id="line2d_177">
<g>
<use href="#m08e8c4e3fb" x="559.253759" y="511.363636" style="stroke: #000000; stroke-width: 0.6"/>
</g>
</g>
</g>
<g id="xtick_134">
<g id="line2d_178">
<g>
<use href="#m08e8c4e3fb" x="563.811324" y="511.363636" style="stroke: #000000; stroke-width: 0.6"/>
</g>
</g>
</g>
<g id="xtick_135">
<g id="line2d_179">
<g>
<use href="#m08e8c4e3fb" x="567.759266" y="511.363636" style="stroke: #000000; stroke-width: 0.6"/>
</g>
</g>
</g>
<g id="xtick_136">
<g id="line2d_180">
<g>
<use href="#m08e8c4e3fb" x="571.241598" y="511.363636" style="stroke: #000000; stroke-width: 0.6"/>
</g>
</g>
</g>
<g id="xtick_137">
<g id="line2d_181">
<g>
<use href="#m08e8c4e3fb" x="594.849997" y="511.363636" style="stroke: #000000; stroke-width: 0.6"/>
</g>
</g>
</g>
<g id="xtick_138">
<g id="line2d_182">
<g>
<use href="#m08e8c4e3fb" x="606.837836" y="511.363636" style="stroke: #000000; stroke-width: 0.6"/>
</g>
</g>
</g>
<g id="xtick_139">
<g id="line2d_183">
<g>
<use href="#m08e8c4e3fb" x="615.343343" y="511.363636" style="stroke: #000000; stroke-width: 0.6"/>
</g>
</g>
</g>
<g id="xtick_140">
<g id="line2d_184">
<g>
<use href="#m08e8c4e3fb" x="621.940727" y="511.363636" style="stroke: #000000; stroke-width: 0.6"/>
</g>
</g>
</g>
<g id="xtick_141">
<g id="line2d_185">
<g>
<use href="#m08e8c4e3fb" x="627.331182" y="511.363636" style="stroke: #000000; stroke-width: 0.6"/>
</g>
</g>
</g>
<g id="xtick_142">
<g id="line2d_186">
<g>
<use href="#m08e8c4e3fb" x="631.888747" y="511.363636" style="stroke: #000000; stroke-width: 0.6"/>
</g>
</g>
</g>
<g id="xtick_143">
<g id="line2d_187">
<g>
<use href="#m08e8c4e3fb" x="635.836689" y="511.363636" style="stroke: #000000; stroke-width: 0.6"/>
</g>
</g>
</g>
<g id="xtick_144">
<g id="line2d_188">
<g>
<use href="#m08e8c4e3fb" x="639.319021" y="511.363636" style="stroke: #000000; stroke-width: 0.6"/>
</g>
</g>
</g>
<g id="text_57">
<text style="font-size: 11.040px; font-family: 'Liberation Sans', sans-serif; text-anchor: middle" x="507.954545" y="539.032324" transform="rotate(-0 507.954545 539.032324)" textLength="38.449" lengthAdjust="spacingAndGlyphs">Time (h)</text>
</g>
</g>
<g id="matplotlib.axis_8">
<g id="ytick_19">
<g id="line2d_189">
<g>
<use href="#m2a3950ff30" x="372.954545" y="505.5" style="stroke: #000000; stroke-width: 0.8"/>
</g>
</g>
<g id="text_58">
<text style="font-size: 12.000px; font-family: 'Liberation Sans', sans-serif; text-anchor: end" x="365.954545" y="509.299219" transform="rotate(-0 365.954545 509.299219)" textLength="15.903" lengthAdjust="spacingAndGlyphs">0.0</text>
</g>
</g>
<g id="ytick_20">
<g id="line2d_190">
<g>
<use href="#m2a3950ff30" x="372.954545" y="468.872727" style="stroke: #000000; stroke-width: 0.8"/>
</g>
</g>
<g id="text_59">
<text style="font-size: 12.000px; font-family: 'Liberation Sans', sans-serif; text-anchor: end" x="365.954545" y="472.671946" transform="rotate(-0 365.954545 472.671946)" textLength="15.903" lengthAdjust="spacingAndGlyphs">0.1</text>
</g>
</g>
<g id="ytick_21">
<g id="line2d_191">
<g>
<use href="#m2a3950ff30" x="372.954545" y="432.245455" style="stroke: #000000; stroke-width: 0.8"/>
</g>
</g>
<g id="text_60">
<text style="font-size: 12.000px; font-family: 'Liberation Sans', sans-serif; text-anchor: end" x="365.954545" y="436.044673" transform="rotate(-0 365.954545 436.044673)" textLength="15.903" lengthAdjust="spacingAndGlyphs">0.2</text>
</g>
</g>
<g id="ytick_22">
<g id="line2d_192">
<g>
<use href="#m2a3950ff30" x="372.954545" y="395.618182" style="stroke: #000000; stroke-width: 0.8"/>
</g>
</g>
<g id="text_61">
<text style="font-size: 12.000px; font-family: 'Liberation Sans', sans-serif; text-anchor: end" x="365.954545" y="399.417401" transform="rotate(-0 365.954545 399.417401)" textLength="15.903" lengthAdjust="spacingAndGlyphs">0.3</text>
</g>
</g>
<g id="ytick_23">
<g id="line2d_193">
<g>
<use href="#m2a3950ff30" x="372.954545" y="358.990909" style="stroke: #000000; stroke-width: 0.8"/>
</g>
</g>
<g id="text_62">
<text style="font-size: 12.000px; font-family: 'Liberation Sans', sans-serif; text-anchor: end" x="365.954545" y="362.790128" transform="rotate(-0 365.954545 362.790128)" textLength="15.903" lengthAdjust="spacingAndGlyphs">0.4</text>
</g>
</g>
<g id="ytick_24">
<g id="line2d_194">
<g>
<use href="#m2a3950ff30" x="372.954545" y="322.363636" style="stroke: #000000; stroke-width: 0.8"/>
</g>
</g>
<g id="text_63">
<text style="font-size: 12.000px; font-family: 'Liberation Sans', sans-serif; text-anchor: end" x="365.954545" y="326.162855" transform="rotate(-0 365.954545 326.162855)" textLength="15.903" lengthAdjust="spacingAndGlyphs">0.5</text>
</g>
</g>
<g id="text_64">
<g transform="translate(344.11942 484.403636) rotate(-90)">
<text>
<tspan x="0" y="-0.873438" style="font-size: 11.040px; font-family: 'Liberation Sans', sans-serif" textLength="5.548" lengthAdjust="spacingAndGlyphs">P</tspan>
<tspan x="5.578003" y="-0.873438" style="font-size: 11.040px; font-family: 'Liberation Sans', sans-serif" textLength="7.241" lengthAdjust="spacingAndGlyphs">O</tspan>
<tspan x="12.858765" y="-0.873438" style="font-size: 11.040px; font-family: 'Liberation Sans', sans-serif" textLength="6.294" lengthAdjust="spacingAndGlyphs">A</tspan>
<tspan x="19.186523" y="-0.873438" style="font-size: 11.040px; font-family: 'Liberation Sans', sans-serif" textLength="8.962" lengthAdjust="spacingAndGlyphs">m</tspan>
<tspan x="28.197144" y="-0.873438" style="font-size: 11.040px; font-family: 'Liberation Sans', sans-serif" textLength="5.548" lengthAdjust="spacingAndGlyphs">P</tspan>
<tspan x="33.775146" y="-0.873438" style="font-size: 11.040px; font-family: 'Liberation Sans', sans-serif"> </tspan>
<tspan x="36.715454" y="-0.873438" style="font-size: 11.040px; font-family: 'Liberation Sans', sans-serif" textLength="5.058" lengthAdjust="spacingAndGlyphs">c</tspan>
<tspan x="41.801147" y="-0.873438" style="font-size: 11.040px; font-family: 'Liberation Sans', sans-serif" textLength="5.629" lengthAdjust="spacingAndGlyphs">o</tspan>
<tspan x="47.460449" y="-0.873438" style="font-size: 11.040px; font-family: 'Liberation Sans', sans-serif" textLength="5.831" lengthAdjust="spacingAndGlyphs">n</tspan>
<tspan x="53.322998" y="-0.873438" style="font-size: 11.040px; font-family: 'Liberation Sans', sans-serif" textLength="5.058" lengthAdjust="spacingAndGlyphs">c</tspan>
<tspan x="58.408691" y="-0.873438" style="font-size: 11.040px; font-family: 'Liberation Sans', sans-serif" textLength="5.660" lengthAdjust="spacingAndGlyphs">e</tspan>
<tspan x="64.099609" y="-0.873438" style="font-size: 11.040px; font-family: 'Liberation Sans', sans-serif" textLength="5.831" lengthAdjust="spacingAndGlyphs">n</tspan>
<tspan x="69.962158" y="-0.873438" style="font-size: 11.040px; font-family: 'Liberation Sans', sans-serif" textLength="3.607" lengthAdjust="spacingAndGlyphs">t</tspan>
<tspan x="73.588989" y="-0.873438" style="font-size: 11.040px; font-family: 'Liberation Sans', sans-serif" textLength="3.782" lengthAdjust="spacingAndGlyphs">r</tspan>
<tspan x="77.391968" y="-0.873438" style="font-size: 11.040px; font-family: 'Liberation Sans', sans-serif" textLength="5.638" lengthAdjust="spacingAndGlyphs">a</tspan>
<tspan x="83.060303" y="-0.873438" style="font-size: 11.040px; font-family: 'Liberation Sans', sans-serif" textLength="3.607" lengthAdjust="spacingAndGlyphs">t</tspan>
<tspan x="86.687134" y="-0.873438" style="font-size: 11.040px; font-family: 'Liberation Sans', sans-serif" textLength="2.556" lengthAdjust="spacingAndGlyphs">i</tspan>
<tspan x="89.25708" y="-0.873438" style="font-size: 11.040px; font-family: 'Liberation Sans', sans-serif" textLength="5.629" lengthAdjust="spacingAndGlyphs">o</tspan>
<tspan x="94.916382" y="-0.873438" style="font-size: 11.040px; font-family: 'Liberation Sans', sans-serif" textLength="5.831" lengthAdjust="spacingAndGlyphs">n</tspan>
<tspan x="100.778931" y="-0.873438" style="font-size: 11.040px; font-family: 'Liberation Sans', sans-serif" textLength="4.793" lengthAdjust="spacingAndGlyphs">s</tspan>
<tspan x="105.598145" y="-0.873438" style="font-size: 11.040px; font-family: 'Liberation Sans', sans-serif"> </tspan>
<tspan x="108.538452" y="-0.873438" style="font-size: 11.040px; font-family: 'Liberation Sans', sans-serif" textLength="3.589" lengthAdjust="spacingAndGlyphs">(</tspan>
<tspan x="112.147217" y="-0.873438" style="font-size: 11.040px; font-family: 'Liberation Sans', sans-serif" textLength="5.831" lengthAdjust="spacingAndGlyphs">n</tspan>
<tspan x="118.009766" y="-0.873438" style="font-size: 11.040px; font-family: 'Liberation Sans', sans-serif" textLength="5.840" lengthAdjust="spacingAndGlyphs">g</tspan>
<tspan x="123.881348" y="-0.873438" style="font-size: 11.040px; font-family: 'Liberation Sans', sans-serif"> </tspan>
<tspan x="126.821655" y="-0.873438" style="font-size: 11.040px; font-family: 'Liberation Sans', sans-serif" textLength="8.962" lengthAdjust="spacingAndGlyphs">m</tspan>
<tspan x="145.709436" y="-0.873438" style="font-size: 11.040px; font-family: 'Liberation Sans', sans-serif" textLength="3.589" lengthAdjust="spacingAndGlyphs">)</tspan>
<tspan x="135.918408" y="-4.31875" style="font-size: 7.728px; font-family: 'Liberation Sans', sans-serif" textLength="5.396" lengthAdjust="spacingAndGlyphs">−</tspan>
<tspan x="141.34375" y="-4.31875" style="font-size: 7.728px; font-family: 'Liberation Sans', sans-serif" textLength="4.097" lengthAdjust="spacingAndGlyphs">3</tspan>
</text>
</g>
</g>
</g>
<g id="line2d_195">
<path d="M 385.227273 321.149933 
L 405.720619 318.074533 
L 417.708458 317.525933 
L 630.681818 317.522603 
L 630.681818 317.522603 
" clip-path="url(#p431a0060c4)" style="fill: none; stroke: #add8e6; stroke-width: 1.4; stroke-linecap: square"/>
</g>
<g id="line2d_196">
<path d="M 385.227273 336.881671 
L 405.720619 321.205841 
L 417.708458 317.496456 
L 446.707312 317.453182 
L 630.681818 317.453182 
L 630.681818 317.453182 
" clip-path="url(#p431a0060c4)" style="fill: none; stroke: #0000ff; stroke-width: 1.4; stroke-linecap: square"/>
</g>
<g id="line2d_197">
<path d="M 385.227273 386.578497 
L 405.720619 352.957182 
L 417.708458 336.710277 
L 426.213965 328.110327 
L 432.811349 323.40722 
L 438.201804 320.807041 
L 442.759369 319.365436 
L 446.707312 318.566377 
L 450.189644 318.124576 
L 456.122603 317.748339 
L 463.252716 317.615573 
L 486.755333 317.589542 
L 630.681818 317.589545 
L 630.681818 317.589545 
" clip-path="url(#p431a0060c4)" style="fill: none; stroke: #00bfbf; stroke-width: 1.4; stroke-linecap: square"/>
</g>
<g id="line2d_198">
<path d="M 385.227273 428.517734 
L 405.720619 406.690455 
L 417.708458 390.422878 
L 426.213965 377.662587 
L 438.201804 359.288656 
L 442.759369 352.518552 
L 446.707312 346.88043 
L 450.189644 342.151564 
L 453.304696 338.178176 
L 456.122603 334.844438 
L 458.695151 332.053629 
L 461.061665 329.721193 
L 463.252716 327.773334 
L 465.292535 326.146693 
L 467.200658 324.787686 
L 470.68299 322.700584 
L 473.798042 321.236225 
L 476.615949 320.204636 
L 479.188497 319.475063 
L 482.670829 318.757371 
L 486.755333 318.223584 
L 491.176336 317.90595 
L 497.109296 317.725086 
L 508.645742 317.660294 
L 630.681818 317.657727 
L 630.681818 317.657727 
" clip-path="url(#p431a0060c4)" style="fill: none; stroke: #bfbf00; stroke-width: 1.4; stroke-linecap: square"/>
</g>
<g id="line2d_199">
<path d="M 385.227273 464.912962 
L 405.720619 448.682161 
L 417.708458 437.705743 
L 426.213965 428.967947 
L 432.811349 421.471424 
L 438.201804 414.987373 
L 446.707312 404.159762 
L 453.304696 395.25798 
L 458.695151 387.644533 
L 465.292535 377.90457 
L 484.78356 348.584626 
L 488.603788 343.427325 
L 491.986405 339.188735 
L 495.021441 335.684414 
L 498.423541 332.127247 
L 501.47425 329.29542 
L 504.239408 327.033598 
L 506.767927 325.222463 
L 509.541739 323.514991 
L 512.077491 322.201324 
L 514.784735 321.04454 
L 517.602642 320.08749 
L 520.481572 319.339631 
L 523.657522 318.741891 
L 527.261273 318.291928 
L 531.749517 317.972936 
L 537.758091 317.792477 
L 548.825525 317.728671 
L 630.681818 317.725909 
L 630.681818 317.725909 
" clip-path="url(#p431a0060c4)" style="fill: none; stroke: #008000; stroke-width: 1.4; stroke-linecap: square"/>
</g>
<g id="line2d_200">
<path d="M 385.227273 485.405586 
L 405.720619 476.223279 
L 417.708458 469.157839 
L 426.213965 463.40127 
L 442.759369 451.384559 
L 446.707312 448.381427 
L 450.189644 445.536921 
L 456.122603 440.212675 
L 461.061665 435.341954 
L 465.292535 430.857868 
L 470.68299 424.714159 
L 475.240555 419.143927 
L 480.395426 412.488343 
L 488.603788 401.452819 
L 498.423541 387.918476 
L 506.279227 376.692577 
L 526.024036 348.203286 
L 530.473103 342.309936 
L 534.148046 337.815591 
L 537.416288 334.174664 
L 540.358945 331.218565 
L 543.176853 328.691198 
L 545.878791 326.553435 
L 548.590875 324.688634 
L 551.290756 323.105478 
L 553.961692 321.795474 
L 556.681211 320.705354 
L 559.580455 319.7877 
L 562.662999 319.052453 
L 566.047593 318.480876 
L 569.897474 318.061968 
L 574.650838 317.778816 
L 581.462115 317.617697 
L 602.758198 317.458128 
L 618.616885 317.642359 
L 630.681818 317.676969 
L 630.681818 317.676969 
" clip-path="url(#p431a0060c4)" style="fill: none; stroke: #800080; stroke-width: 1.4; stroke-linecap: square"/>
</g>
<g id="line2d_201">
<path d="M 385.227273 494.270593 
L 405.720619 490.06086 
L 417.708458 486.789543 
L 426.213965 484.199208 
L 432.811349 481.946497 
L 438.201804 479.817284 
L 446.707312 475.916233 
L 458.695151 469.953639 
L 465.292535 466.406026 
L 470.68299 463.213678 
L 475.240555 460.246756 
L 480.395426 456.596856 
L 485.785881 452.482555 
L 491.176336 448.051177 
L 495.733901 443.981811 
L 499.681843 440.160252 
L 503.70668 435.965797 
L 508.187351 430.963542 
L 513.268215 424.919398 
L 519.236519 417.43626 
L 536.187865 395.605163 
L 541.42862 388.489957 
L 546.643462 381.015468 
L 554.737229 368.952492 
L 562.294805 357.834119 
L 567.136809 351.102566 
L 571.350898 345.618702 
L 575.182696 340.993774 
L 578.702274 337.088454 
L 581.999687 333.755288 
L 585.137561 330.893831 
L 588.160075 328.433455 
L 591.098505 326.323257 
L 594.000207 324.510756 
L 596.873386 322.976441 
L 599.764411 321.684449 
L 602.701577 320.615658 
L 605.750433 319.744501 
L 608.976043 319.056539 
L 612.500787 318.536379 
L 616.514772 318.175488 
L 621.453834 317.965648 
L 629.092654 317.892655 
L 630.681818 317.891421 
L 630.681818 317.891421 
" clip-path="url(#p431a0060c4)" style="fill: none; stroke: #bf00bf; stroke-width: 1.4; stroke-linecap: square"/>
</g>
<g id="line2d_202">
<path d="M 385.227273 500.165899 
L 405.720619 497.356266 
L 426.213965 493.847993 
L 438.201804 491.776133 
L 450.189644 490.063884 
L 456.122603 488.85516 
L 465.292535 486.589498 
L 475.240555 483.951816 
L 479.188497 482.701753 
L 483.746062 481.012615 
L 488.603788 478.94198 
L 493.542851 476.60075 
L 498.423541 474.029755 
L 502.61153 471.545932 
L 506.767927 468.808876 
L 525.514271 455.801231 
L 530.254906 452.313113 
L 534.529543 448.878355 
L 538.924212 445.050036 
L 543.458432 440.801363 
L 548.235372 436.011923 
L 553.466444 430.439132 
L 559.499119 423.676902 
L 565.119447 417.056191 
L 570.352339 410.546699 
L 575.799163 403.409786 
L 581.655229 395.36487 
L 588.252613 385.910737 
L 599.110417 369.88346 
L 609.476012 354.733657 
L 614.657913 347.543494 
L 618.891303 342.042211 
L 622.79551 337.32783 
L 626.532062 333.159796 
L 630.104259 329.503082 
L 630.681818 328.942969 
L 630.681818 328.942969 
" clip-path="url(#p431a0060c4)" style="fill: none; stroke: #ff0000; stroke-width: 1.4; stroke-linecap: square"/>
</g>
<g id="line2d_203">
<path d="M 385.227273 502.848954 
L 405.720619 501.550632 
L 432.811349 498.992596 
L 456.122603 496.551884 
L 473.798042 494.443314 
L 481.555012 493.253299 
L 488.603788 491.940346 
L 495.733901 490.372609 
L 505.276906 488.01317 
L 515.514788 485.259451 
L 527.742026 481.736985 
L 532.367636 480.161692 
L 537.070487 478.313671 
L 541.875465 476.180857 
L 546.643462 473.82353 
L 551.717704 471.061571 
L 557.476748 467.663264 
L 563.170888 464.049309 
L 568.126546 460.648318 
L 572.579639 457.323988 
L 576.859308 453.847878 
L 581.189618 450.039765 
L 585.847576 445.640494 
L 590.958316 440.501628 
L 596.409601 434.701356 
L 602.071481 428.349854 
L 607.791388 421.597605 
L 613.774908 414.181268 
L 623.270394 401.980417 
L 629.591373 394.051778 
L 630.681818 392.737367 
L 630.681818 392.737367 
" clip-path="url(#p431a0060c4)" style="fill: none; stroke: #000000; stroke-width: 1.4; stroke-linecap: square"/>
</g>
<g id="patch_21">
<path d="M 372.954545 511.363636 
L 372.954545 308.863636 
" style="fill: none; stroke: #000000; stroke-width: 0.8; stroke-linejoin: miter; stroke-linecap: square"/>
</g>
<g id="patch_22">
<path d="M 642.954545 511.363636 
L 642.954545 308.863636 
" style="fill: none; stroke: #000000; stroke-width: 0.8; stroke-linejoin: miter; stroke-linecap: square"/>
</g>
<g id="patch_23">
<path d="M 372.954545 511.363636 
L 642.954545 511.363636 
" style="fill: none; stroke: #000000; stroke-width: 0.8; stroke-linejoin: miter; stroke-linecap: square"/>
</g>
<g id="patch_24">
<path d="M 372.954545 308.863636 
L 642.954545 308.863636 
" style="fill: none; stroke: #000000; stroke-width: 0.8; stroke-linejoin: miter; stroke-linecap: square"/>
</g>
<g id="text_65">
<text style="font-size: 13.584px; font-family: 'Liberation Sans', sans-serif" transform="translate(339.525327 290.187713)" textLength="336.871" lengthAdjust="spacingAndGlyphs">d) Condensation on aerosol with 2 OH groups and RH=10%</text>
<text style="font-size: 13.584px; font-family: 'Liberation Sans', sans-serif" transform="translate(415.9494 303.9546)" textLength="186.577" lengthAdjust="spacingAndGlyphs">with different number of carbons</text>
</g>
<g id="legend_4">
<g id="patch_25">
<path d="M 380.304545 483.142777 
L 443.39642 483.142777 
Q 445.49642 483.142777 445.49642 481.042777 
L 445.49642 339.184496 
Q 445.49642 337.084496 443.39642 337.084496 
L 380.304545 337.084496 
Q 378.204545 337.084496 378.204545 339.184496 
L 378.204545 481.042777 
Q 378.204545 483.142777 380.304545 483.142777 
z
" style="fill: #ffffff; opacity: 0.8; stroke: #cccccc; stroke-linejoin: miter"/>
</g>
<g id="line2d_204">
<path d="M 382.404545 345.587855 
L 392.904545 345.587855 
L 403.404545 345.587855 
" style="fill: none; stroke: #add8e6; stroke-width: 1.4; stroke-linecap: square"/>
</g>
<g id="text_66">
<text style="font-size: 12.600px; font-family: 'Liberation Sans', sans-serif; text-anchor: start" x="411.804545" y="349.262855" transform="rotate(-0 411.804545 349.262855)" textLength="29.490" lengthAdjust="spacingAndGlyphs">C=14</text>
</g>
<g id="line2d_205">
<path d="M 382.404545 361.524886 
L 392.904545 361.524886 
L 403.404545 361.524886 
" style="fill: none; stroke: #0000ff; stroke-width: 1.4; stroke-linecap: square"/>
</g>
<g id="text_67">
<text style="font-size: 12.600px; font-family: 'Liberation Sans', sans-serif; text-anchor: start" x="411.804545" y="365.199886" transform="rotate(-0 411.804545 365.199886)" textLength="29.490" lengthAdjust="spacingAndGlyphs">C=15</text>
</g>
<g id="line2d_206">
<path d="M 382.404545 377.461918 
L 392.904545 377.461918 
L 403.404545 377.461918 
" style="fill: none; stroke: #00bfbf; stroke-width: 1.4; stroke-linecap: square"/>
</g>
<g id="text_68">
<text style="font-size: 12.600px; font-family: 'Liberation Sans', sans-serif; text-anchor: start" x="411.804545" y="381.136918" transform="rotate(-0 411.804545 381.136918)" textLength="29.490" lengthAdjust="spacingAndGlyphs">C=16</text>
</g>
<g id="line2d_207">
<path d="M 382.404545 393.398949 
L 392.904545 393.398949 
L 403.404545 393.398949 
" style="fill: none; stroke: #bfbf00; stroke-width: 1.4; stroke-linecap: square"/>
</g>
<g id="text_69">
<text style="font-size: 12.600px; font-family: 'Liberation Sans', sans-serif; text-anchor: start" x="411.804545" y="397.073949" transform="rotate(-0 411.804545 397.073949)" textLength="29.490" lengthAdjust="spacingAndGlyphs">C=17</text>
</g>
<g id="line2d_208">
<path d="M 382.404545 409.33598 
L 392.904545 409.33598 
L 403.404545 409.33598 
" style="fill: none; stroke: #008000; stroke-width: 1.4; stroke-linecap: square"/>
</g>
<g id="text_70">
<text style="font-size: 12.600px; font-family: 'Liberation Sans', sans-serif; text-anchor: start" x="411.804545" y="413.01098" transform="rotate(-0 411.804545 413.01098)" textLength="29.490" lengthAdjust="spacingAndGlyphs">C=18</text>
</g>
<g id="line2d_209">
<path d="M 382.404545 425.273011 
L 392.904545 425.273011 
L 403.404545 425.273011 
" style="fill: none; stroke: #800080; stroke-width: 1.4; stroke-linecap: square"/>
</g>
<g id="text_71">
<text style="font-size: 12.600px; font-family: 'Liberation Sans', sans-serif; text-anchor: start" x="411.804545" y="428.948011" transform="rotate(-0 411.804545 428.948011)" textLength="29.490" lengthAdjust="spacingAndGlyphs">C=19</text>
</g>
<g id="line2d_210">
<path d="M 382.404545 441.210043 
L 392.904545 441.210043 
L 403.404545 441.210043 
" style="fill: none; stroke: #bf00bf; stroke-width: 1.4; stroke-linecap: square"/>
</g>
<g id="text_72">
<text style="font-size: 12.600px; font-family: 'Liberation Sans', sans-serif; text-anchor: start" x="411.804545" y="444.885043" transform="rotate(-0 411.804545 444.885043)" textLength="29.490" lengthAdjust="spacingAndGlyphs">C=20</text>
</g>
<g id="line2d_211">
<path d="M 382.404545 457.147074 
L 392.904545 457.147074 
L 403.404545 457.147074 
" style="fill: none; stroke: #ff0000; stroke-width: 1.4; stroke-linecap: square"/>
</g>
<g id="text_73">
<text style="font-size: 12.600px; font-family: 'Liberation Sans', sans-serif; text-anchor: start" x="411.804545" y="460.822074" transform="rotate(-0 411.804545 460.822074)" textLength="29.490" lengthAdjust="spacingAndGlyphs">C=21</text>
</g>
<g id="line2d_212">
<path d="M 382.404545 473.084105 
L 392.904545 473.084105 
L 403.404545 473.084105 
" style="fill: none; stroke: #000000; stroke-width: 1.4; stroke-linecap: square"/>
</g>
<g id="text_74">
<text style="font-size: 12.600px; font-family: 'Liberation Sans', sans-serif; text-anchor: start" x="411.804545" y="476.759105" transform="rotate(-0 411.804545 476.759105)" textLength="29.490" lengthAdjust="spacingAndGlyphs">C=22</text>
</g>
</g>
</g>
</g>
<defs>
<clipPath id="pf4587c5738">
<rect x="45.681818" y="36.545455" width="268.636364" height="204.136364"/>
</clipPath>
<clipPath id="p17f8176287">
<rect x="377.045455" y="36.136364" width="269.045455" height="204.545455"/>
</clipPath>
<clipPath id="p3fd82d7ed6">
<rect x="43.636364" y="307.5" width="269.318182" height="203.863636"/>
</clipPath>
<clipPath id="p431a0060c4">
<rect x="372.954545" y="308.863636" width="270" height="202.5"/>
</clipPath>
</defs>
</svg>
</body></html>
